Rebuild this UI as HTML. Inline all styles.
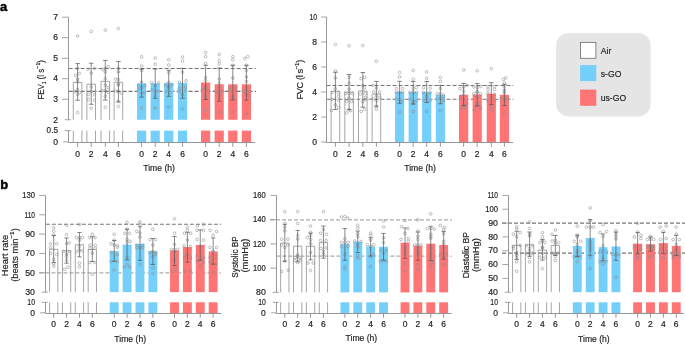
<!DOCTYPE html>
<html><head><meta charset="utf-8"><title>Figure</title>
<style>html,body{margin:0;padding:0;background:#fff;overflow:hidden}svg{display:block;will-change:transform}</style></head>
<body><svg width="685" height="344" viewBox="0 0 685 344" font-family="'Liberation Sans', sans-serif">
<style>text{stroke:#1e1e1e;stroke-width:0.18px;paint-order:stroke}</style>
<rect width="685" height="344" fill="#fff"/>
<line x1="68.6" y1="68.45" x2="255.9" y2="68.45" stroke="#767676" stroke-width="1.1" stroke-dasharray="4 2"/>
<line x1="68.6" y1="91.35" x2="255.9" y2="91.35" stroke="#767676" stroke-width="1.1" stroke-dasharray="4 2"/>
<path d="M73.3 119.75V82.4H81.9V119.75M73.3 130.6V142.5M81.9 130.6V142.5" fill="none" stroke="#8f8f8f" stroke-width="0.8"/>
<circle cx="77.6" cy="36" r="1.35" fill="none" stroke="#8a8a8a" stroke-width="0.55"/>
<circle cx="77.6" cy="68.5" r="1.35" fill="none" stroke="#8a8a8a" stroke-width="0.55"/>
<circle cx="75.6" cy="75.3" r="1.35" fill="none" stroke="#8a8a8a" stroke-width="0.55"/>
<circle cx="79.2" cy="73.5" r="1.35" fill="none" stroke="#8a8a8a" stroke-width="0.55"/>
<circle cx="77.6" cy="79" r="1.35" fill="none" stroke="#8a8a8a" stroke-width="0.55"/>
<circle cx="77.6" cy="81.5" r="1.35" fill="none" stroke="#8a8a8a" stroke-width="0.55"/>
<circle cx="77.6" cy="89.5" r="1.35" fill="none" stroke="#8a8a8a" stroke-width="0.55"/>
<circle cx="74.8" cy="91.4" r="1.35" fill="none" stroke="#8a8a8a" stroke-width="0.55"/>
<circle cx="79.6" cy="92.5" r="1.35" fill="none" stroke="#8a8a8a" stroke-width="0.55"/>
<circle cx="77.6" cy="94.5" r="1.35" fill="none" stroke="#8a8a8a" stroke-width="0.55"/>
<circle cx="77.6" cy="112.6" r="1.35" fill="none" stroke="#8a8a8a" stroke-width="0.55"/>
<path d="M77.6 63.6V100.2M75.3 63.6H79.9M75.3 100.2H79.9" fill="none" stroke="#555555" stroke-width="0.7"/>
<path d="M86.9 119.75V84.2H95.5V119.75M86.9 130.6V142.5M95.5 130.6V142.5" fill="none" stroke="#8f8f8f" stroke-width="0.8"/>
<circle cx="91.2" cy="31.4" r="1.35" fill="none" stroke="#8a8a8a" stroke-width="0.55"/>
<circle cx="87.9" cy="69.2" r="1.35" fill="none" stroke="#8a8a8a" stroke-width="0.55"/>
<circle cx="94.4" cy="68.5" r="1.35" fill="none" stroke="#8a8a8a" stroke-width="0.55"/>
<circle cx="91.2" cy="73.1" r="1.35" fill="none" stroke="#8a8a8a" stroke-width="0.55"/>
<circle cx="91.2" cy="87" r="1.35" fill="none" stroke="#8a8a8a" stroke-width="0.55"/>
<circle cx="91.2" cy="91.5" r="1.35" fill="none" stroke="#8a8a8a" stroke-width="0.55"/>
<circle cx="88.2" cy="94.5" r="1.35" fill="none" stroke="#8a8a8a" stroke-width="0.55"/>
<circle cx="88.2" cy="99.4" r="1.35" fill="none" stroke="#8a8a8a" stroke-width="0.55"/>
<circle cx="94.4" cy="94.6" r="1.35" fill="none" stroke="#8a8a8a" stroke-width="0.55"/>
<circle cx="94.4" cy="100.2" r="1.35" fill="none" stroke="#8a8a8a" stroke-width="0.55"/>
<circle cx="91.2" cy="108.2" r="1.35" fill="none" stroke="#8a8a8a" stroke-width="0.55"/>
<path d="M91.2 63.2V104.3M88.9 63.2H93.5M88.9 104.3H93.5" fill="none" stroke="#555555" stroke-width="0.7"/>
<path d="M101 119.75V81.3H109.6V119.75M101 130.6V142.5M109.6 130.6V142.5" fill="none" stroke="#8f8f8f" stroke-width="0.8"/>
<circle cx="105.3" cy="30.1" r="1.35" fill="none" stroke="#8a8a8a" stroke-width="0.55"/>
<circle cx="108.3" cy="66.7" r="1.35" fill="none" stroke="#8a8a8a" stroke-width="0.55"/>
<circle cx="102.6" cy="69.5" r="1.35" fill="none" stroke="#8a8a8a" stroke-width="0.55"/>
<circle cx="105.3" cy="68.4" r="1.35" fill="none" stroke="#8a8a8a" stroke-width="0.55"/>
<circle cx="105.3" cy="71.8" r="1.35" fill="none" stroke="#8a8a8a" stroke-width="0.55"/>
<circle cx="105.3" cy="78.6" r="1.35" fill="none" stroke="#8a8a8a" stroke-width="0.55"/>
<circle cx="105.3" cy="85" r="1.35" fill="none" stroke="#8a8a8a" stroke-width="0.55"/>
<circle cx="108" cy="87.7" r="1.35" fill="none" stroke="#8a8a8a" stroke-width="0.55"/>
<circle cx="102.3" cy="90.5" r="1.35" fill="none" stroke="#8a8a8a" stroke-width="0.55"/>
<circle cx="105.3" cy="91" r="1.35" fill="none" stroke="#8a8a8a" stroke-width="0.55"/>
<circle cx="108" cy="92.3" r="1.35" fill="none" stroke="#8a8a8a" stroke-width="0.55"/>
<circle cx="105.3" cy="96.2" r="1.35" fill="none" stroke="#8a8a8a" stroke-width="0.55"/>
<circle cx="105.3" cy="107.3" r="1.35" fill="none" stroke="#8a8a8a" stroke-width="0.55"/>
<path d="M105.3 60.4V100.1M103 60.4H107.6M103 100.1H107.6" fill="none" stroke="#555555" stroke-width="0.7"/>
<path d="M114.1 119.75V82.2H122.7V119.75M114.1 130.6V142.5M122.7 130.6V142.5" fill="none" stroke="#8f8f8f" stroke-width="0.8"/>
<circle cx="118.4" cy="28.5" r="1.35" fill="none" stroke="#8a8a8a" stroke-width="0.55"/>
<circle cx="118.4" cy="68.5" r="1.35" fill="none" stroke="#8a8a8a" stroke-width="0.55"/>
<circle cx="118.4" cy="72" r="1.35" fill="none" stroke="#8a8a8a" stroke-width="0.55"/>
<circle cx="115.5" cy="79.1" r="1.35" fill="none" stroke="#8a8a8a" stroke-width="0.55"/>
<circle cx="118.4" cy="79.5" r="1.35" fill="none" stroke="#8a8a8a" stroke-width="0.55"/>
<circle cx="118.4" cy="84" r="1.35" fill="none" stroke="#8a8a8a" stroke-width="0.55"/>
<circle cx="118.4" cy="85" r="1.35" fill="none" stroke="#8a8a8a" stroke-width="0.55"/>
<circle cx="115.6" cy="91" r="1.35" fill="none" stroke="#8a8a8a" stroke-width="0.55"/>
<circle cx="118.4" cy="91.5" r="1.35" fill="none" stroke="#8a8a8a" stroke-width="0.55"/>
<circle cx="121.4" cy="93.2" r="1.35" fill="none" stroke="#8a8a8a" stroke-width="0.55"/>
<circle cx="118.4" cy="101.4" r="1.35" fill="none" stroke="#8a8a8a" stroke-width="0.55"/>
<circle cx="118.4" cy="106.5" r="1.35" fill="none" stroke="#8a8a8a" stroke-width="0.55"/>
<path d="M118.4 61.5V101.9M116.1 61.5H120.7M116.1 101.9H120.7" fill="none" stroke="#555555" stroke-width="0.7"/>
<rect x="137" y="83.4" width="9.2" height="36.35" fill="#74cffa"/>
<rect x="137" y="130.6" width="9.2" height="11.9" fill="#74cffa"/>
<circle cx="141.6" cy="56.8" r="1.35" fill="none" stroke="#8a8a8a" stroke-width="0.55"/>
<circle cx="141.6" cy="66" r="1.35" fill="none" stroke="#8a8a8a" stroke-width="0.55"/>
<circle cx="141.6" cy="70.5" r="1.35" fill="none" stroke="#8a8a8a" stroke-width="0.55"/>
<circle cx="141.6" cy="82" r="1.35" fill="none" stroke="#8a8a8a" stroke-width="0.55"/>
<circle cx="138.5" cy="85.4" r="1.35" fill="none" stroke="#8a8a8a" stroke-width="0.55"/>
<circle cx="145" cy="85.4" r="1.35" fill="none" stroke="#8a8a8a" stroke-width="0.55"/>
<circle cx="141.6" cy="87.9" r="1.35" fill="none" stroke="#8a8a8a" stroke-width="0.55"/>
<circle cx="138.5" cy="89.6" r="1.35" fill="none" stroke="#8a8a8a" stroke-width="0.55"/>
<circle cx="141.6" cy="93.2" r="1.35" fill="none" stroke="#8a8a8a" stroke-width="0.55"/>
<circle cx="144.5" cy="93" r="1.35" fill="none" stroke="#8a8a8a" stroke-width="0.55"/>
<circle cx="141.6" cy="108.2" r="1.35" fill="none" stroke="#8a8a8a" stroke-width="0.55"/>
<path d="M141.6 69V97.1M139.3 69H143.9M139.3 97.1H143.9" fill="none" stroke="#555555" stroke-width="0.7"/>
<rect x="150.6" y="83.4" width="9.2" height="36.35" fill="#74cffa"/>
<rect x="150.6" y="130.6" width="9.2" height="11.9" fill="#74cffa"/>
<circle cx="155.2" cy="58.1" r="1.35" fill="none" stroke="#8a8a8a" stroke-width="0.55"/>
<circle cx="155.2" cy="64.2" r="1.35" fill="none" stroke="#8a8a8a" stroke-width="0.55"/>
<circle cx="151.5" cy="82.6" r="1.35" fill="none" stroke="#8a8a8a" stroke-width="0.55"/>
<circle cx="158.5" cy="82.6" r="1.35" fill="none" stroke="#8a8a8a" stroke-width="0.55"/>
<circle cx="155.2" cy="85.4" r="1.35" fill="none" stroke="#8a8a8a" stroke-width="0.55"/>
<circle cx="152.2" cy="89.6" r="1.35" fill="none" stroke="#8a8a8a" stroke-width="0.55"/>
<circle cx="155.2" cy="91.5" r="1.35" fill="none" stroke="#8a8a8a" stroke-width="0.55"/>
<circle cx="158" cy="91" r="1.35" fill="none" stroke="#8a8a8a" stroke-width="0.55"/>
<circle cx="155.2" cy="95.6" r="1.35" fill="none" stroke="#8a8a8a" stroke-width="0.55"/>
<circle cx="155.2" cy="108.1" r="1.35" fill="none" stroke="#8a8a8a" stroke-width="0.55"/>
<path d="M155.2 69V98.3M152.9 69H157.5M152.9 98.3H157.5" fill="none" stroke="#555555" stroke-width="0.7"/>
<rect x="164.1" y="82.9" width="9.2" height="36.85" fill="#74cffa"/>
<rect x="164.1" y="130.6" width="9.2" height="11.9" fill="#74cffa"/>
<circle cx="168.7" cy="59.7" r="1.35" fill="none" stroke="#8a8a8a" stroke-width="0.55"/>
<circle cx="168.7" cy="65.1" r="1.35" fill="none" stroke="#8a8a8a" stroke-width="0.55"/>
<circle cx="168.7" cy="72.5" r="1.35" fill="none" stroke="#8a8a8a" stroke-width="0.55"/>
<circle cx="168.7" cy="82.5" r="1.35" fill="none" stroke="#8a8a8a" stroke-width="0.55"/>
<circle cx="165.5" cy="85.4" r="1.35" fill="none" stroke="#8a8a8a" stroke-width="0.55"/>
<circle cx="168.7" cy="86.4" r="1.35" fill="none" stroke="#8a8a8a" stroke-width="0.55"/>
<circle cx="172" cy="85" r="1.35" fill="none" stroke="#8a8a8a" stroke-width="0.55"/>
<circle cx="168.7" cy="88" r="1.35" fill="none" stroke="#8a8a8a" stroke-width="0.55"/>
<circle cx="166.5" cy="91.5" r="1.35" fill="none" stroke="#8a8a8a" stroke-width="0.55"/>
<circle cx="170" cy="92.5" r="1.35" fill="none" stroke="#8a8a8a" stroke-width="0.55"/>
<circle cx="168.7" cy="107.1" r="1.35" fill="none" stroke="#8a8a8a" stroke-width="0.55"/>
<path d="M168.7 70.3V96.3M166.4 70.3H171M166.4 96.3H171" fill="none" stroke="#555555" stroke-width="0.7"/>
<rect x="177.9" y="82.9" width="9.2" height="36.85" fill="#74cffa"/>
<rect x="177.9" y="130.6" width="9.2" height="11.9" fill="#74cffa"/>
<circle cx="182.5" cy="57.1" r="1.35" fill="none" stroke="#8a8a8a" stroke-width="0.55"/>
<circle cx="182.5" cy="61.2" r="1.35" fill="none" stroke="#8a8a8a" stroke-width="0.55"/>
<circle cx="182.5" cy="72.2" r="1.35" fill="none" stroke="#8a8a8a" stroke-width="0.55"/>
<circle cx="179.3" cy="82.1" r="1.35" fill="none" stroke="#8a8a8a" stroke-width="0.55"/>
<circle cx="186" cy="80.8" r="1.35" fill="none" stroke="#8a8a8a" stroke-width="0.55"/>
<circle cx="179.3" cy="88.7" r="1.35" fill="none" stroke="#8a8a8a" stroke-width="0.55"/>
<circle cx="179.3" cy="91.8" r="1.35" fill="none" stroke="#8a8a8a" stroke-width="0.55"/>
<circle cx="185.5" cy="87.1" r="1.35" fill="none" stroke="#8a8a8a" stroke-width="0.55"/>
<circle cx="185.5" cy="90.5" r="1.35" fill="none" stroke="#8a8a8a" stroke-width="0.55"/>
<circle cx="182.5" cy="94.8" r="1.35" fill="none" stroke="#8a8a8a" stroke-width="0.55"/>
<circle cx="182.5" cy="108.9" r="1.35" fill="none" stroke="#8a8a8a" stroke-width="0.55"/>
<path d="M182.5 68.4V98.3M180.2 68.4H184.8M180.2 98.3H184.8" fill="none" stroke="#555555" stroke-width="0.7"/>
<rect x="201" y="82.5" width="9.2" height="37.25" fill="#ff7474"/>
<rect x="201" y="130.6" width="9.2" height="11.9" fill="#ff7474"/>
<circle cx="205.6" cy="52.5" r="1.35" fill="none" stroke="#8a8a8a" stroke-width="0.55"/>
<circle cx="205.6" cy="56.7" r="1.35" fill="none" stroke="#8a8a8a" stroke-width="0.55"/>
<circle cx="205.6" cy="63.3" r="1.35" fill="none" stroke="#8a8a8a" stroke-width="0.55"/>
<circle cx="205.6" cy="77.5" r="1.35" fill="none" stroke="#8a8a8a" stroke-width="0.55"/>
<circle cx="205.6" cy="80.5" r="1.35" fill="none" stroke="#8a8a8a" stroke-width="0.55"/>
<circle cx="205.6" cy="86.5" r="1.35" fill="none" stroke="#8a8a8a" stroke-width="0.55"/>
<circle cx="205.6" cy="89" r="1.35" fill="none" stroke="#8a8a8a" stroke-width="0.55"/>
<circle cx="202.4" cy="89.7" r="1.35" fill="none" stroke="#8a8a8a" stroke-width="0.55"/>
<circle cx="208.8" cy="91" r="1.35" fill="none" stroke="#8a8a8a" stroke-width="0.55"/>
<circle cx="205.6" cy="94" r="1.35" fill="none" stroke="#8a8a8a" stroke-width="0.55"/>
<circle cx="205.6" cy="97.1" r="1.35" fill="none" stroke="#8a8a8a" stroke-width="0.55"/>
<circle cx="205.6" cy="110.3" r="1.35" fill="none" stroke="#8a8a8a" stroke-width="0.55"/>
<path d="M205.6 65.3V99.5M203.3 65.3H207.9M203.3 99.5H207.9" fill="none" stroke="#555555" stroke-width="0.7"/>
<rect x="214.6" y="84.3" width="9.2" height="35.45" fill="#ff7474"/>
<rect x="214.6" y="130.6" width="9.2" height="11.9" fill="#ff7474"/>
<circle cx="219.2" cy="54.4" r="1.35" fill="none" stroke="#8a8a8a" stroke-width="0.55"/>
<circle cx="219.2" cy="60.6" r="1.35" fill="none" stroke="#8a8a8a" stroke-width="0.55"/>
<circle cx="219.2" cy="63.9" r="1.35" fill="none" stroke="#8a8a8a" stroke-width="0.55"/>
<circle cx="219.2" cy="79" r="1.35" fill="none" stroke="#8a8a8a" stroke-width="0.55"/>
<circle cx="219.2" cy="83.5" r="1.35" fill="none" stroke="#8a8a8a" stroke-width="0.55"/>
<circle cx="219.2" cy="87" r="1.35" fill="none" stroke="#8a8a8a" stroke-width="0.55"/>
<circle cx="215.9" cy="91.5" r="1.35" fill="none" stroke="#8a8a8a" stroke-width="0.55"/>
<circle cx="219.2" cy="91.5" r="1.35" fill="none" stroke="#8a8a8a" stroke-width="0.55"/>
<circle cx="222.5" cy="90.8" r="1.35" fill="none" stroke="#8a8a8a" stroke-width="0.55"/>
<circle cx="219.2" cy="94.2" r="1.35" fill="none" stroke="#8a8a8a" stroke-width="0.55"/>
<circle cx="219.2" cy="97.5" r="1.35" fill="none" stroke="#8a8a8a" stroke-width="0.55"/>
<circle cx="219.2" cy="112" r="1.35" fill="none" stroke="#8a8a8a" stroke-width="0.55"/>
<path d="M219.2 68V101.2M216.9 68H221.5M216.9 101.2H221.5" fill="none" stroke="#555555" stroke-width="0.7"/>
<rect x="228.2" y="84.3" width="9.2" height="35.45" fill="#ff7474"/>
<rect x="228.2" y="130.6" width="9.2" height="11.9" fill="#ff7474"/>
<circle cx="232.8" cy="56.7" r="1.35" fill="none" stroke="#8a8a8a" stroke-width="0.55"/>
<circle cx="232.8" cy="59.8" r="1.35" fill="none" stroke="#8a8a8a" stroke-width="0.55"/>
<circle cx="232.8" cy="65.3" r="1.35" fill="none" stroke="#8a8a8a" stroke-width="0.55"/>
<circle cx="232.8" cy="78" r="1.35" fill="none" stroke="#8a8a8a" stroke-width="0.55"/>
<circle cx="229.5" cy="87.5" r="1.35" fill="none" stroke="#8a8a8a" stroke-width="0.55"/>
<circle cx="229.5" cy="90.5" r="1.35" fill="none" stroke="#8a8a8a" stroke-width="0.55"/>
<circle cx="236" cy="87.5" r="1.35" fill="none" stroke="#8a8a8a" stroke-width="0.55"/>
<circle cx="236" cy="91" r="1.35" fill="none" stroke="#8a8a8a" stroke-width="0.55"/>
<circle cx="232.8" cy="95.4" r="1.35" fill="none" stroke="#8a8a8a" stroke-width="0.55"/>
<circle cx="232.8" cy="97.5" r="1.35" fill="none" stroke="#8a8a8a" stroke-width="0.55"/>
<circle cx="232.8" cy="112" r="1.35" fill="none" stroke="#8a8a8a" stroke-width="0.55"/>
<path d="M232.8 65.3V100M230.5 65.3H235.1M230.5 100H235.1" fill="none" stroke="#555555" stroke-width="0.7"/>
<rect x="241.8" y="84.3" width="9.2" height="35.45" fill="#ff7474"/>
<rect x="241.8" y="130.6" width="9.2" height="11.9" fill="#ff7474"/>
<circle cx="244.9" cy="58.5" r="1.35" fill="none" stroke="#8a8a8a" stroke-width="0.55"/>
<circle cx="247.8" cy="56.7" r="1.35" fill="none" stroke="#8a8a8a" stroke-width="0.55"/>
<circle cx="246.4" cy="65.3" r="1.35" fill="none" stroke="#8a8a8a" stroke-width="0.55"/>
<circle cx="246.4" cy="70.5" r="1.35" fill="none" stroke="#8a8a8a" stroke-width="0.55"/>
<circle cx="246.4" cy="77" r="1.35" fill="none" stroke="#8a8a8a" stroke-width="0.55"/>
<circle cx="246.4" cy="81.5" r="1.35" fill="none" stroke="#8a8a8a" stroke-width="0.55"/>
<circle cx="246.4" cy="88.5" r="1.35" fill="none" stroke="#8a8a8a" stroke-width="0.55"/>
<circle cx="243.5" cy="91" r="1.35" fill="none" stroke="#8a8a8a" stroke-width="0.55"/>
<circle cx="249" cy="91.5" r="1.35" fill="none" stroke="#8a8a8a" stroke-width="0.55"/>
<circle cx="246.4" cy="94" r="1.35" fill="none" stroke="#8a8a8a" stroke-width="0.55"/>
<circle cx="248.3" cy="95.5" r="1.35" fill="none" stroke="#8a8a8a" stroke-width="0.55"/>
<circle cx="246.4" cy="113.8" r="1.35" fill="none" stroke="#8a8a8a" stroke-width="0.55"/>
<path d="M246.4 65.3V100.2M244.1 65.3H248.7M244.1 100.2H248.7" fill="none" stroke="#555555" stroke-width="0.7"/>
<line x1="68.5" y1="17.2" x2="68.5" y2="119.75" stroke="#8c8c8c" stroke-width="0.9" />
<line x1="68.5" y1="130.6" x2="68.5" y2="142.5" stroke="#8c8c8c" stroke-width="0.9" />
<line x1="68.5" y1="142.5" x2="255.2" y2="142.5" stroke="#8c8c8c" stroke-width="0.9" />
<line x1="62" y1="17.2" x2="68.5" y2="17.2" stroke="#9a9a9a" stroke-width="0.9" />
<text x="58" y="19.95" font-size="8.4" text-anchor="end" textLength="4.75" lengthAdjust="spacingAndGlyphs" fill="#1e1e1e">7</text>
<line x1="62" y1="37.71" x2="68.5" y2="37.71" stroke="#9a9a9a" stroke-width="0.9" />
<text x="58" y="40.46" font-size="8.4" text-anchor="end" textLength="4.75" lengthAdjust="spacingAndGlyphs" fill="#1e1e1e">6</text>
<line x1="62" y1="58.22" x2="68.5" y2="58.22" stroke="#9a9a9a" stroke-width="0.9" />
<text x="58" y="60.97" font-size="8.4" text-anchor="end" textLength="4.75" lengthAdjust="spacingAndGlyphs" fill="#1e1e1e">5</text>
<line x1="62" y1="78.73" x2="68.5" y2="78.73" stroke="#9a9a9a" stroke-width="0.9" />
<text x="58" y="81.48" font-size="8.4" text-anchor="end" textLength="4.75" lengthAdjust="spacingAndGlyphs" fill="#1e1e1e">4</text>
<line x1="62" y1="99.24" x2="68.5" y2="99.24" stroke="#9a9a9a" stroke-width="0.9" />
<text x="58" y="101.99" font-size="8.4" text-anchor="end" textLength="4.75" lengthAdjust="spacingAndGlyphs" fill="#1e1e1e">3</text>
<line x1="64.7" y1="119.75" x2="70.8" y2="119.75" stroke="#9a9a9a" stroke-width="0.9" />
<text x="58" y="122.5" font-size="8.4" text-anchor="end" textLength="4.75" lengthAdjust="spacingAndGlyphs" fill="#1e1e1e">2</text>
<line x1="64.7" y1="130.6" x2="70.8" y2="130.6" stroke="#9a9a9a" stroke-width="0.9" />
<text x="58" y="133.35" font-size="8.4" text-anchor="end" textLength="11.4" lengthAdjust="spacingAndGlyphs" fill="#1e1e1e">0.5</text>
<line x1="63.2" y1="141.9" x2="68.5" y2="141.9" stroke="#9a9a9a" stroke-width="0.9" />
<text x="58" y="144.65" font-size="8.4" text-anchor="end" textLength="4.75" lengthAdjust="spacingAndGlyphs" fill="#1e1e1e">0</text>
<line x1="77.6" y1="142.5" x2="77.6" y2="146.8" stroke="#858585" stroke-width="0.85" />
<text x="77.6" y="156.7" font-size="8.4" text-anchor="middle" textLength="4.75" lengthAdjust="spacingAndGlyphs" fill="#1e1e1e">0</text>
<line x1="91.2" y1="142.5" x2="91.2" y2="146.8" stroke="#858585" stroke-width="0.85" />
<text x="91.2" y="156.7" font-size="8.4" text-anchor="middle" textLength="4.75" lengthAdjust="spacingAndGlyphs" fill="#1e1e1e">2</text>
<line x1="105.3" y1="142.5" x2="105.3" y2="146.8" stroke="#858585" stroke-width="0.85" />
<text x="105.3" y="156.7" font-size="8.4" text-anchor="middle" textLength="4.75" lengthAdjust="spacingAndGlyphs" fill="#1e1e1e">4</text>
<line x1="118.4" y1="142.5" x2="118.4" y2="146.8" stroke="#858585" stroke-width="0.85" />
<text x="118.4" y="156.7" font-size="8.4" text-anchor="middle" textLength="4.75" lengthAdjust="spacingAndGlyphs" fill="#1e1e1e">6</text>
<line x1="141.6" y1="142.5" x2="141.6" y2="146.8" stroke="#858585" stroke-width="0.85" />
<text x="141.6" y="156.7" font-size="8.4" text-anchor="middle" textLength="4.75" lengthAdjust="spacingAndGlyphs" fill="#1e1e1e">0</text>
<line x1="155.2" y1="142.5" x2="155.2" y2="146.8" stroke="#858585" stroke-width="0.85" />
<text x="155.2" y="156.7" font-size="8.4" text-anchor="middle" textLength="4.75" lengthAdjust="spacingAndGlyphs" fill="#1e1e1e">2</text>
<line x1="168.7" y1="142.5" x2="168.7" y2="146.8" stroke="#858585" stroke-width="0.85" />
<text x="168.7" y="156.7" font-size="8.4" text-anchor="middle" textLength="4.75" lengthAdjust="spacingAndGlyphs" fill="#1e1e1e">4</text>
<line x1="182.5" y1="142.5" x2="182.5" y2="146.8" stroke="#858585" stroke-width="0.85" />
<text x="182.5" y="156.7" font-size="8.4" text-anchor="middle" textLength="4.75" lengthAdjust="spacingAndGlyphs" fill="#1e1e1e">6</text>
<line x1="205.6" y1="142.5" x2="205.6" y2="146.8" stroke="#858585" stroke-width="0.85" />
<text x="205.6" y="156.7" font-size="8.4" text-anchor="middle" textLength="4.75" lengthAdjust="spacingAndGlyphs" fill="#1e1e1e">0</text>
<line x1="219.2" y1="142.5" x2="219.2" y2="146.8" stroke="#858585" stroke-width="0.85" />
<text x="219.2" y="156.7" font-size="8.4" text-anchor="middle" textLength="4.75" lengthAdjust="spacingAndGlyphs" fill="#1e1e1e">2</text>
<line x1="232.8" y1="142.5" x2="232.8" y2="146.8" stroke="#858585" stroke-width="0.85" />
<text x="232.8" y="156.7" font-size="8.4" text-anchor="middle" textLength="4.75" lengthAdjust="spacingAndGlyphs" fill="#1e1e1e">4</text>
<line x1="246.4" y1="142.5" x2="246.4" y2="146.8" stroke="#858585" stroke-width="0.85" />
<text x="246.4" y="156.7" font-size="8.4" text-anchor="middle" textLength="4.75" lengthAdjust="spacingAndGlyphs" fill="#1e1e1e">6</text>
<line x1="326.5" y1="85.5" x2="513.3" y2="85.5" stroke="#767676" stroke-width="1.1" stroke-dasharray="4 2"/>
<line x1="326.5" y1="99.25" x2="513.3" y2="99.25" stroke="#767676" stroke-width="1.1" stroke-dasharray="4 2"/>
<path d="M331.1 142V91.3H339.7V142M331.1 142V142.5M339.7 142V142.5" fill="none" stroke="#8f8f8f" stroke-width="0.8"/>
<circle cx="335.4" cy="44.5" r="1.35" fill="none" stroke="#8a8a8a" stroke-width="0.55"/>
<circle cx="335.4" cy="71" r="1.35" fill="none" stroke="#8a8a8a" stroke-width="0.55"/>
<circle cx="335.4" cy="78" r="1.35" fill="none" stroke="#8a8a8a" stroke-width="0.55"/>
<circle cx="335.4" cy="88.8" r="1.35" fill="none" stroke="#8a8a8a" stroke-width="0.55"/>
<circle cx="332" cy="92.5" r="1.35" fill="none" stroke="#8a8a8a" stroke-width="0.55"/>
<circle cx="338.5" cy="92.5" r="1.35" fill="none" stroke="#8a8a8a" stroke-width="0.55"/>
<circle cx="338.5" cy="96.5" r="1.35" fill="none" stroke="#8a8a8a" stroke-width="0.55"/>
<circle cx="332" cy="99.4" r="1.35" fill="none" stroke="#8a8a8a" stroke-width="0.55"/>
<circle cx="338.5" cy="100.5" r="1.35" fill="none" stroke="#8a8a8a" stroke-width="0.55"/>
<circle cx="335.4" cy="104.9" r="1.35" fill="none" stroke="#8a8a8a" stroke-width="0.55"/>
<circle cx="338.5" cy="107.5" r="1.35" fill="none" stroke="#8a8a8a" stroke-width="0.55"/>
<circle cx="331.5" cy="110.5" r="1.35" fill="none" stroke="#8a8a8a" stroke-width="0.55"/>
<path d="M335.4 72.3V109.4M333.1 72.3H337.7M333.1 109.4H337.7" fill="none" stroke="#555555" stroke-width="0.7"/>
<path d="M344.8 142V92H353.4V142M344.8 142V142.5M353.4 142V142.5" fill="none" stroke="#8f8f8f" stroke-width="0.8"/>
<circle cx="349.1" cy="45.75" r="1.35" fill="none" stroke="#8a8a8a" stroke-width="0.55"/>
<circle cx="349.1" cy="77.3" r="1.35" fill="none" stroke="#8a8a8a" stroke-width="0.55"/>
<circle cx="349.1" cy="83.2" r="1.35" fill="none" stroke="#8a8a8a" stroke-width="0.55"/>
<circle cx="349.1" cy="89.1" r="1.35" fill="none" stroke="#8a8a8a" stroke-width="0.55"/>
<circle cx="345.5" cy="93.5" r="1.35" fill="none" stroke="#8a8a8a" stroke-width="0.55"/>
<circle cx="349.1" cy="93.5" r="1.35" fill="none" stroke="#8a8a8a" stroke-width="0.55"/>
<circle cx="352.5" cy="93.5" r="1.35" fill="none" stroke="#8a8a8a" stroke-width="0.55"/>
<circle cx="349.1" cy="98" r="1.35" fill="none" stroke="#8a8a8a" stroke-width="0.55"/>
<circle cx="346.5" cy="101.5" r="1.35" fill="none" stroke="#8a8a8a" stroke-width="0.55"/>
<circle cx="351.5" cy="101.5" r="1.35" fill="none" stroke="#8a8a8a" stroke-width="0.55"/>
<circle cx="349.1" cy="109.9" r="1.35" fill="none" stroke="#8a8a8a" stroke-width="0.55"/>
<circle cx="346.7" cy="112.9" r="1.35" fill="none" stroke="#8a8a8a" stroke-width="0.55"/>
<circle cx="350.5" cy="110.7" r="1.35" fill="none" stroke="#8a8a8a" stroke-width="0.55"/>
<path d="M349.1 74.5V109.5M346.8 74.5H351.4M346.8 109.5H351.4" fill="none" stroke="#555555" stroke-width="0.7"/>
<path d="M358.5 142V91H367.1V142M358.5 142V142.5M367.1 142V142.5" fill="none" stroke="#8f8f8f" stroke-width="0.8"/>
<circle cx="362.8" cy="45.5" r="1.35" fill="none" stroke="#8a8a8a" stroke-width="0.55"/>
<circle cx="361.1" cy="78.6" r="1.35" fill="none" stroke="#8a8a8a" stroke-width="0.55"/>
<circle cx="364.6" cy="77.3" r="1.35" fill="none" stroke="#8a8a8a" stroke-width="0.55"/>
<circle cx="362.8" cy="85.5" r="1.35" fill="none" stroke="#8a8a8a" stroke-width="0.55"/>
<circle cx="364.5" cy="87.8" r="1.35" fill="none" stroke="#8a8a8a" stroke-width="0.55"/>
<circle cx="360.4" cy="94.1" r="1.35" fill="none" stroke="#8a8a8a" stroke-width="0.55"/>
<circle cx="365.5" cy="93.5" r="1.35" fill="none" stroke="#8a8a8a" stroke-width="0.55"/>
<circle cx="365.5" cy="97.6" r="1.35" fill="none" stroke="#8a8a8a" stroke-width="0.55"/>
<circle cx="365.5" cy="99.5" r="1.35" fill="none" stroke="#8a8a8a" stroke-width="0.55"/>
<circle cx="362.8" cy="101.5" r="1.35" fill="none" stroke="#8a8a8a" stroke-width="0.55"/>
<circle cx="361.1" cy="111.4" r="1.35" fill="none" stroke="#8a8a8a" stroke-width="0.55"/>
<circle cx="364.4" cy="109.4" r="1.35" fill="none" stroke="#8a8a8a" stroke-width="0.55"/>
<path d="M362.8 72.5V107.2M360.5 72.5H365.1M360.5 107.2H365.1" fill="none" stroke="#555555" stroke-width="0.7"/>
<path d="M372.1 142V94.1H380.7V142M372.1 142V142.5M380.7 142V142.5" fill="none" stroke="#8f8f8f" stroke-width="0.8"/>
<circle cx="376.4" cy="61.25" r="1.35" fill="none" stroke="#8a8a8a" stroke-width="0.55"/>
<circle cx="372.9" cy="85.2" r="1.35" fill="none" stroke="#8a8a8a" stroke-width="0.55"/>
<circle cx="376.4" cy="88" r="1.35" fill="none" stroke="#8a8a8a" stroke-width="0.55"/>
<circle cx="373.7" cy="91.9" r="1.35" fill="none" stroke="#8a8a8a" stroke-width="0.55"/>
<circle cx="379.5" cy="92" r="1.35" fill="none" stroke="#8a8a8a" stroke-width="0.55"/>
<circle cx="376.4" cy="95.5" r="1.35" fill="none" stroke="#8a8a8a" stroke-width="0.55"/>
<circle cx="373.7" cy="98.8" r="1.35" fill="none" stroke="#8a8a8a" stroke-width="0.55"/>
<circle cx="379.5" cy="97.5" r="1.35" fill="none" stroke="#8a8a8a" stroke-width="0.55"/>
<circle cx="376.4" cy="100.5" r="1.35" fill="none" stroke="#8a8a8a" stroke-width="0.55"/>
<circle cx="376.4" cy="106.3" r="1.35" fill="none" stroke="#8a8a8a" stroke-width="0.55"/>
<circle cx="376.4" cy="109.2" r="1.35" fill="none" stroke="#8a8a8a" stroke-width="0.55"/>
<path d="M376.4 81.4V106.3M374.1 81.4H378.7M374.1 106.3H378.7" fill="none" stroke="#555555" stroke-width="0.7"/>
<rect x="395" y="91.9" width="9.2" height="50.1" fill="#74cffa"/>
<rect x="395" y="142" width="9.2" height="0.5" fill="#74cffa"/>
<circle cx="399.6" cy="72.5" r="1.35" fill="none" stroke="#8a8a8a" stroke-width="0.55"/>
<circle cx="399.6" cy="76.9" r="1.35" fill="none" stroke="#8a8a8a" stroke-width="0.55"/>
<circle cx="396.4" cy="88.5" r="1.35" fill="none" stroke="#8a8a8a" stroke-width="0.55"/>
<circle cx="402.6" cy="88.5" r="1.35" fill="none" stroke="#8a8a8a" stroke-width="0.55"/>
<circle cx="396.4" cy="92" r="1.35" fill="none" stroke="#8a8a8a" stroke-width="0.55"/>
<circle cx="399.6" cy="92.5" r="1.35" fill="none" stroke="#8a8a8a" stroke-width="0.55"/>
<circle cx="402.6" cy="92" r="1.35" fill="none" stroke="#8a8a8a" stroke-width="0.55"/>
<circle cx="396.4" cy="99.2" r="1.35" fill="none" stroke="#8a8a8a" stroke-width="0.55"/>
<circle cx="399.6" cy="99.5" r="1.35" fill="none" stroke="#8a8a8a" stroke-width="0.55"/>
<circle cx="402" cy="100.9" r="1.35" fill="none" stroke="#8a8a8a" stroke-width="0.55"/>
<circle cx="399.6" cy="112.2" r="1.35" fill="none" stroke="#8a8a8a" stroke-width="0.55"/>
<path d="M399.6 81.3V103.3M397.3 81.3H401.9M397.3 103.3H401.9" fill="none" stroke="#555555" stroke-width="0.7"/>
<rect x="408.6" y="92.2" width="9.2" height="49.8" fill="#74cffa"/>
<rect x="408.6" y="142" width="9.2" height="0.5" fill="#74cffa"/>
<circle cx="413.2" cy="70.4" r="1.35" fill="none" stroke="#8a8a8a" stroke-width="0.55"/>
<circle cx="413.2" cy="79.3" r="1.35" fill="none" stroke="#8a8a8a" stroke-width="0.55"/>
<circle cx="413.2" cy="88.5" r="1.35" fill="none" stroke="#8a8a8a" stroke-width="0.55"/>
<circle cx="416.4" cy="87.4" r="1.35" fill="none" stroke="#8a8a8a" stroke-width="0.55"/>
<circle cx="410" cy="92.2" r="1.35" fill="none" stroke="#8a8a8a" stroke-width="0.55"/>
<circle cx="413.2" cy="92.2" r="1.35" fill="none" stroke="#8a8a8a" stroke-width="0.55"/>
<circle cx="416.5" cy="92.2" r="1.35" fill="none" stroke="#8a8a8a" stroke-width="0.55"/>
<circle cx="410" cy="99.2" r="1.35" fill="none" stroke="#8a8a8a" stroke-width="0.55"/>
<circle cx="416.5" cy="100.5" r="1.35" fill="none" stroke="#8a8a8a" stroke-width="0.55"/>
<circle cx="413.2" cy="101.5" r="1.35" fill="none" stroke="#8a8a8a" stroke-width="0.55"/>
<circle cx="413.2" cy="103.5" r="1.35" fill="none" stroke="#8a8a8a" stroke-width="0.55"/>
<circle cx="413.2" cy="111.4" r="1.35" fill="none" stroke="#8a8a8a" stroke-width="0.55"/>
<path d="M413.2 81.5V104M410.9 81.5H415.5M410.9 104H415.5" fill="none" stroke="#555555" stroke-width="0.7"/>
<rect x="422.1" y="91.9" width="9.2" height="50.1" fill="#74cffa"/>
<rect x="422.1" y="142" width="9.2" height="0.5" fill="#74cffa"/>
<circle cx="426.7" cy="71.9" r="1.35" fill="none" stroke="#8a8a8a" stroke-width="0.55"/>
<circle cx="426.7" cy="78.4" r="1.35" fill="none" stroke="#8a8a8a" stroke-width="0.55"/>
<circle cx="423.4" cy="87.8" r="1.35" fill="none" stroke="#8a8a8a" stroke-width="0.55"/>
<circle cx="430.2" cy="88.2" r="1.35" fill="none" stroke="#8a8a8a" stroke-width="0.55"/>
<circle cx="423.5" cy="92.6" r="1.35" fill="none" stroke="#8a8a8a" stroke-width="0.55"/>
<circle cx="430.2" cy="92.6" r="1.35" fill="none" stroke="#8a8a8a" stroke-width="0.55"/>
<circle cx="426.7" cy="96.1" r="1.35" fill="none" stroke="#8a8a8a" stroke-width="0.55"/>
<circle cx="426.7" cy="99" r="1.35" fill="none" stroke="#8a8a8a" stroke-width="0.55"/>
<circle cx="423.5" cy="100" r="1.35" fill="none" stroke="#8a8a8a" stroke-width="0.55"/>
<circle cx="430.2" cy="100.5" r="1.35" fill="none" stroke="#8a8a8a" stroke-width="0.55"/>
<circle cx="426.7" cy="111.2" r="1.35" fill="none" stroke="#8a8a8a" stroke-width="0.55"/>
<path d="M426.7 81.5V102.4M424.4 81.5H429M424.4 102.4H429" fill="none" stroke="#555555" stroke-width="0.7"/>
<rect x="435.8" y="94.8" width="9.2" height="47.2" fill="#74cffa"/>
<rect x="435.8" y="142" width="9.2" height="0.5" fill="#74cffa"/>
<circle cx="440.4" cy="77.5" r="1.35" fill="none" stroke="#8a8a8a" stroke-width="0.55"/>
<circle cx="440.4" cy="81.5" r="1.35" fill="none" stroke="#8a8a8a" stroke-width="0.55"/>
<circle cx="440.4" cy="88.5" r="1.35" fill="none" stroke="#8a8a8a" stroke-width="0.55"/>
<circle cx="437.3" cy="93.9" r="1.35" fill="none" stroke="#8a8a8a" stroke-width="0.55"/>
<circle cx="440.4" cy="93.5" r="1.35" fill="none" stroke="#8a8a8a" stroke-width="0.55"/>
<circle cx="443.5" cy="95" r="1.35" fill="none" stroke="#8a8a8a" stroke-width="0.55"/>
<circle cx="437.3" cy="98.7" r="1.35" fill="none" stroke="#8a8a8a" stroke-width="0.55"/>
<circle cx="440.4" cy="98.5" r="1.35" fill="none" stroke="#8a8a8a" stroke-width="0.55"/>
<circle cx="443.4" cy="98.5" r="1.35" fill="none" stroke="#8a8a8a" stroke-width="0.55"/>
<circle cx="443.4" cy="100.9" r="1.35" fill="none" stroke="#8a8a8a" stroke-width="0.55"/>
<circle cx="440.4" cy="110.5" r="1.35" fill="none" stroke="#8a8a8a" stroke-width="0.55"/>
<path d="M440.4 85.4V103.8M438.1 85.4H442.7M438.1 103.8H442.7" fill="none" stroke="#555555" stroke-width="0.7"/>
<rect x="459" y="94.8" width="9.2" height="47.2" fill="#ff7474"/>
<rect x="459" y="142" width="9.2" height="0.5" fill="#ff7474"/>
<circle cx="463.6" cy="69.9" r="1.35" fill="none" stroke="#8a8a8a" stroke-width="0.55"/>
<circle cx="466.9" cy="85.2" r="1.35" fill="none" stroke="#8a8a8a" stroke-width="0.55"/>
<circle cx="459.9" cy="88.5" r="1.35" fill="none" stroke="#8a8a8a" stroke-width="0.55"/>
<circle cx="463.6" cy="87" r="1.35" fill="none" stroke="#8a8a8a" stroke-width="0.55"/>
<circle cx="463.6" cy="91.3" r="1.35" fill="none" stroke="#8a8a8a" stroke-width="0.55"/>
<circle cx="463.6" cy="95" r="1.35" fill="none" stroke="#8a8a8a" stroke-width="0.55"/>
<circle cx="460.5" cy="97.1" r="1.35" fill="none" stroke="#8a8a8a" stroke-width="0.55"/>
<circle cx="463.6" cy="99.4" r="1.35" fill="none" stroke="#8a8a8a" stroke-width="0.55"/>
<circle cx="466.9" cy="103.5" r="1.35" fill="none" stroke="#8a8a8a" stroke-width="0.55"/>
<circle cx="463.6" cy="105.5" r="1.35" fill="none" stroke="#8a8a8a" stroke-width="0.55"/>
<circle cx="465.4" cy="107.4" r="1.35" fill="none" stroke="#8a8a8a" stroke-width="0.55"/>
<circle cx="461.7" cy="108.5" r="1.35" fill="none" stroke="#8a8a8a" stroke-width="0.55"/>
<path d="M463.6 83.4V105.5M461.3 83.4H465.9M461.3 105.5H465.9" fill="none" stroke="#555555" stroke-width="0.7"/>
<rect x="472.6" y="94.5" width="9.2" height="47.5" fill="#ff7474"/>
<rect x="472.6" y="142" width="9.2" height="0.5" fill="#ff7474"/>
<circle cx="477.2" cy="70.8" r="1.35" fill="none" stroke="#8a8a8a" stroke-width="0.55"/>
<circle cx="473.9" cy="86.9" r="1.35" fill="none" stroke="#8a8a8a" stroke-width="0.55"/>
<circle cx="480.8" cy="86.5" r="1.35" fill="none" stroke="#8a8a8a" stroke-width="0.55"/>
<circle cx="477.2" cy="87.5" r="1.35" fill="none" stroke="#8a8a8a" stroke-width="0.55"/>
<circle cx="477.2" cy="91.5" r="1.35" fill="none" stroke="#8a8a8a" stroke-width="0.55"/>
<circle cx="477.2" cy="92.2" r="1.35" fill="none" stroke="#8a8a8a" stroke-width="0.55"/>
<circle cx="473.9" cy="93.7" r="1.35" fill="none" stroke="#8a8a8a" stroke-width="0.55"/>
<circle cx="480.5" cy="93.7" r="1.35" fill="none" stroke="#8a8a8a" stroke-width="0.55"/>
<circle cx="477.2" cy="97" r="1.35" fill="none" stroke="#8a8a8a" stroke-width="0.55"/>
<circle cx="477.2" cy="103.1" r="1.35" fill="none" stroke="#8a8a8a" stroke-width="0.55"/>
<circle cx="477.2" cy="106" r="1.35" fill="none" stroke="#8a8a8a" stroke-width="0.55"/>
<circle cx="474.3" cy="109.9" r="1.35" fill="none" stroke="#8a8a8a" stroke-width="0.55"/>
<circle cx="480.7" cy="108.5" r="1.35" fill="none" stroke="#8a8a8a" stroke-width="0.55"/>
<path d="M477.2 83.4V105.9M474.9 83.4H479.5M474.9 105.9H479.5" fill="none" stroke="#555555" stroke-width="0.7"/>
<rect x="486.7" y="93.7" width="9.2" height="48.3" fill="#ff7474"/>
<rect x="486.7" y="142" width="9.2" height="0.5" fill="#ff7474"/>
<circle cx="491.3" cy="68.6" r="1.35" fill="none" stroke="#8a8a8a" stroke-width="0.55"/>
<circle cx="488" cy="86.5" r="1.35" fill="none" stroke="#8a8a8a" stroke-width="0.55"/>
<circle cx="488" cy="89.4" r="1.35" fill="none" stroke="#8a8a8a" stroke-width="0.55"/>
<circle cx="494.5" cy="86.5" r="1.35" fill="none" stroke="#8a8a8a" stroke-width="0.55"/>
<circle cx="494.5" cy="89.5" r="1.35" fill="none" stroke="#8a8a8a" stroke-width="0.55"/>
<circle cx="488" cy="93" r="1.35" fill="none" stroke="#8a8a8a" stroke-width="0.55"/>
<circle cx="494.5" cy="94.4" r="1.35" fill="none" stroke="#8a8a8a" stroke-width="0.55"/>
<circle cx="491.3" cy="97.4" r="1.35" fill="none" stroke="#8a8a8a" stroke-width="0.55"/>
<circle cx="488" cy="100.9" r="1.35" fill="none" stroke="#8a8a8a" stroke-width="0.55"/>
<circle cx="494.5" cy="101" r="1.35" fill="none" stroke="#8a8a8a" stroke-width="0.55"/>
<circle cx="491.3" cy="106.1" r="1.35" fill="none" stroke="#8a8a8a" stroke-width="0.55"/>
<circle cx="491.3" cy="109.9" r="1.35" fill="none" stroke="#8a8a8a" stroke-width="0.55"/>
<path d="M491.3 82.7V104.4M489 82.7H493.6M489 104.4H493.6" fill="none" stroke="#555555" stroke-width="0.7"/>
<rect x="499.8" y="94.8" width="9.2" height="47.2" fill="#ff7474"/>
<rect x="499.8" y="142" width="9.2" height="0.5" fill="#ff7474"/>
<circle cx="503.4" cy="79.5" r="1.35" fill="none" stroke="#8a8a8a" stroke-width="0.55"/>
<circle cx="505.8" cy="77.8" r="1.35" fill="none" stroke="#8a8a8a" stroke-width="0.55"/>
<circle cx="504.4" cy="83" r="1.35" fill="none" stroke="#8a8a8a" stroke-width="0.55"/>
<circle cx="504.4" cy="86.5" r="1.35" fill="none" stroke="#8a8a8a" stroke-width="0.55"/>
<circle cx="504.4" cy="90" r="1.35" fill="none" stroke="#8a8a8a" stroke-width="0.55"/>
<circle cx="504.4" cy="91.7" r="1.35" fill="none" stroke="#8a8a8a" stroke-width="0.55"/>
<circle cx="504.4" cy="93.5" r="1.35" fill="none" stroke="#8a8a8a" stroke-width="0.55"/>
<circle cx="501.6" cy="98.7" r="1.35" fill="none" stroke="#8a8a8a" stroke-width="0.55"/>
<circle cx="504.4" cy="98.5" r="1.35" fill="none" stroke="#8a8a8a" stroke-width="0.55"/>
<circle cx="507.7" cy="99" r="1.35" fill="none" stroke="#8a8a8a" stroke-width="0.55"/>
<circle cx="504.4" cy="101.3" r="1.35" fill="none" stroke="#8a8a8a" stroke-width="0.55"/>
<circle cx="504.4" cy="113.4" r="1.35" fill="none" stroke="#8a8a8a" stroke-width="0.55"/>
<path d="M504.4 84.3V105.5M502.1 84.3H506.7M502.1 105.5H506.7" fill="none" stroke="#555555" stroke-width="0.7"/>
<line x1="326.5" y1="17" x2="326.5" y2="142" stroke="#8c8c8c" stroke-width="0.9" />
<line x1="326.5" y1="142" x2="326.5" y2="142.5" stroke="#8c8c8c" stroke-width="0.9" />
<line x1="326.5" y1="142.5" x2="513.1" y2="142.5" stroke="#8c8c8c" stroke-width="0.9" />
<line x1="321.2" y1="17" x2="326.5" y2="17" stroke="#9a9a9a" stroke-width="0.9" />
<text x="317.1" y="19.75" font-size="8.4" text-anchor="end" textLength="7.65" lengthAdjust="spacingAndGlyphs" fill="#1e1e1e">10</text>
<line x1="321.2" y1="42" x2="326.5" y2="42" stroke="#9a9a9a" stroke-width="0.9" />
<text x="317.1" y="44.75" font-size="8.4" text-anchor="end" textLength="4.75" lengthAdjust="spacingAndGlyphs" fill="#1e1e1e">8</text>
<line x1="321.2" y1="67" x2="326.5" y2="67" stroke="#9a9a9a" stroke-width="0.9" />
<text x="317.1" y="69.75" font-size="8.4" text-anchor="end" textLength="4.75" lengthAdjust="spacingAndGlyphs" fill="#1e1e1e">6</text>
<line x1="321.2" y1="92" x2="326.5" y2="92" stroke="#9a9a9a" stroke-width="0.9" />
<text x="317.1" y="94.75" font-size="8.4" text-anchor="end" textLength="4.75" lengthAdjust="spacingAndGlyphs" fill="#1e1e1e">4</text>
<line x1="321.2" y1="117" x2="326.5" y2="117" stroke="#9a9a9a" stroke-width="0.9" />
<text x="317.1" y="119.75" font-size="8.4" text-anchor="end" textLength="4.75" lengthAdjust="spacingAndGlyphs" fill="#1e1e1e">2</text>
<line x1="321.2" y1="142" x2="326.5" y2="142" stroke="#9a9a9a" stroke-width="0.9" />
<text x="317.1" y="144.75" font-size="8.4" text-anchor="end" textLength="4.75" lengthAdjust="spacingAndGlyphs" fill="#1e1e1e">0</text>
<line x1="335.4" y1="142.5" x2="335.4" y2="146.8" stroke="#858585" stroke-width="0.85" />
<text x="335.4" y="156.7" font-size="8.4" text-anchor="middle" textLength="4.75" lengthAdjust="spacingAndGlyphs" fill="#1e1e1e">0</text>
<line x1="349.1" y1="142.5" x2="349.1" y2="146.8" stroke="#858585" stroke-width="0.85" />
<text x="349.1" y="156.7" font-size="8.4" text-anchor="middle" textLength="4.75" lengthAdjust="spacingAndGlyphs" fill="#1e1e1e">2</text>
<line x1="362.8" y1="142.5" x2="362.8" y2="146.8" stroke="#858585" stroke-width="0.85" />
<text x="362.8" y="156.7" font-size="8.4" text-anchor="middle" textLength="4.75" lengthAdjust="spacingAndGlyphs" fill="#1e1e1e">4</text>
<line x1="376.4" y1="142.5" x2="376.4" y2="146.8" stroke="#858585" stroke-width="0.85" />
<text x="376.4" y="156.7" font-size="8.4" text-anchor="middle" textLength="4.75" lengthAdjust="spacingAndGlyphs" fill="#1e1e1e">6</text>
<line x1="399.6" y1="142.5" x2="399.6" y2="146.8" stroke="#858585" stroke-width="0.85" />
<text x="399.6" y="156.7" font-size="8.4" text-anchor="middle" textLength="4.75" lengthAdjust="spacingAndGlyphs" fill="#1e1e1e">0</text>
<line x1="413.2" y1="142.5" x2="413.2" y2="146.8" stroke="#858585" stroke-width="0.85" />
<text x="413.2" y="156.7" font-size="8.4" text-anchor="middle" textLength="4.75" lengthAdjust="spacingAndGlyphs" fill="#1e1e1e">2</text>
<line x1="426.7" y1="142.5" x2="426.7" y2="146.8" stroke="#858585" stroke-width="0.85" />
<text x="426.7" y="156.7" font-size="8.4" text-anchor="middle" textLength="4.75" lengthAdjust="spacingAndGlyphs" fill="#1e1e1e">4</text>
<line x1="440.4" y1="142.5" x2="440.4" y2="146.8" stroke="#858585" stroke-width="0.85" />
<text x="440.4" y="156.7" font-size="8.4" text-anchor="middle" textLength="4.75" lengthAdjust="spacingAndGlyphs" fill="#1e1e1e">6</text>
<line x1="463.6" y1="142.5" x2="463.6" y2="146.8" stroke="#858585" stroke-width="0.85" />
<text x="463.6" y="156.7" font-size="8.4" text-anchor="middle" textLength="4.75" lengthAdjust="spacingAndGlyphs" fill="#1e1e1e">0</text>
<line x1="477.2" y1="142.5" x2="477.2" y2="146.8" stroke="#858585" stroke-width="0.85" />
<text x="477.2" y="156.7" font-size="8.4" text-anchor="middle" textLength="4.75" lengthAdjust="spacingAndGlyphs" fill="#1e1e1e">2</text>
<line x1="491.3" y1="142.5" x2="491.3" y2="146.8" stroke="#858585" stroke-width="0.85" />
<text x="491.3" y="156.7" font-size="8.4" text-anchor="middle" textLength="4.75" lengthAdjust="spacingAndGlyphs" fill="#1e1e1e">4</text>
<line x1="504.4" y1="142.5" x2="504.4" y2="146.8" stroke="#858585" stroke-width="0.85" />
<text x="504.4" y="156.7" font-size="8.4" text-anchor="middle" textLength="4.75" lengthAdjust="spacingAndGlyphs" fill="#1e1e1e">6</text>
<line x1="45.9" y1="224.2" x2="221" y2="224.2" stroke="#767676" stroke-width="1.1" stroke-dasharray="4 2"/>
<line x1="39.4" y1="272.8" x2="221" y2="272.8" stroke="#acacac" stroke-width="1.3" stroke-dasharray="4 2"/>
<path d="M49.55 292.15V249.3H57.85V292.15M49.55 302.3V313.5M57.85 302.3V313.5" fill="none" stroke="#8f8f8f" stroke-width="0.8"/>
<circle cx="53.7" cy="227.7" r="1.35" fill="none" stroke="#8a8a8a" stroke-width="0.55"/>
<circle cx="53.7" cy="231.2" r="1.35" fill="none" stroke="#8a8a8a" stroke-width="0.55"/>
<circle cx="53.7" cy="235" r="1.35" fill="none" stroke="#8a8a8a" stroke-width="0.55"/>
<circle cx="50.5" cy="243.8" r="1.35" fill="none" stroke="#8a8a8a" stroke-width="0.55"/>
<circle cx="56.7" cy="243.8" r="1.35" fill="none" stroke="#8a8a8a" stroke-width="0.55"/>
<circle cx="50.5" cy="247.6" r="1.35" fill="none" stroke="#8a8a8a" stroke-width="0.55"/>
<circle cx="50.6" cy="253.4" r="1.35" fill="none" stroke="#8a8a8a" stroke-width="0.55"/>
<circle cx="56.7" cy="254.5" r="1.35" fill="none" stroke="#8a8a8a" stroke-width="0.55"/>
<circle cx="53.7" cy="259.5" r="1.35" fill="none" stroke="#8a8a8a" stroke-width="0.55"/>
<circle cx="53.7" cy="263.5" r="1.35" fill="none" stroke="#8a8a8a" stroke-width="0.55"/>
<circle cx="53.7" cy="266.2" r="1.35" fill="none" stroke="#8a8a8a" stroke-width="0.55"/>
<path d="M53.7 235.5V262.6M51.5 235.5H55.9M51.5 262.6H55.9" fill="none" stroke="#555555" stroke-width="0.7"/>
<path d="M62.43 292.15V250.8H70.73V292.15M62.43 302.3V313.5M70.73 302.3V313.5" fill="none" stroke="#8f8f8f" stroke-width="0.8"/>
<circle cx="66.58" cy="225.5" r="1.35" fill="none" stroke="#8a8a8a" stroke-width="0.55"/>
<circle cx="66.58" cy="234.5" r="1.35" fill="none" stroke="#8a8a8a" stroke-width="0.55"/>
<circle cx="66.58" cy="243.5" r="1.35" fill="none" stroke="#8a8a8a" stroke-width="0.55"/>
<circle cx="69.18" cy="242.9" r="1.35" fill="none" stroke="#8a8a8a" stroke-width="0.55"/>
<circle cx="63.48" cy="251.4" r="1.35" fill="none" stroke="#8a8a8a" stroke-width="0.55"/>
<circle cx="69.48" cy="251.4" r="1.35" fill="none" stroke="#8a8a8a" stroke-width="0.55"/>
<circle cx="66.58" cy="254" r="1.35" fill="none" stroke="#8a8a8a" stroke-width="0.55"/>
<circle cx="66.58" cy="256.5" r="1.35" fill="none" stroke="#8a8a8a" stroke-width="0.55"/>
<circle cx="66.58" cy="260.4" r="1.35" fill="none" stroke="#8a8a8a" stroke-width="0.55"/>
<circle cx="64.68" cy="269.4" r="1.35" fill="none" stroke="#8a8a8a" stroke-width="0.55"/>
<circle cx="67.88" cy="267.2" r="1.35" fill="none" stroke="#8a8a8a" stroke-width="0.55"/>
<path d="M66.58 238V263.2M64.38 238H68.78M64.38 263.2H68.78" fill="none" stroke="#555555" stroke-width="0.7"/>
<path d="M75.31 292.15V244.8H83.61V292.15M75.31 302.3V313.5M83.61 302.3V313.5" fill="none" stroke="#8f8f8f" stroke-width="0.8"/>
<circle cx="79.46" cy="224.4" r="1.35" fill="none" stroke="#8a8a8a" stroke-width="0.55"/>
<circle cx="76.26" cy="237.5" r="1.35" fill="none" stroke="#8a8a8a" stroke-width="0.55"/>
<circle cx="79.46" cy="237.5" r="1.35" fill="none" stroke="#8a8a8a" stroke-width="0.55"/>
<circle cx="82.46" cy="237.5" r="1.35" fill="none" stroke="#8a8a8a" stroke-width="0.55"/>
<circle cx="79.46" cy="240.1" r="1.35" fill="none" stroke="#8a8a8a" stroke-width="0.55"/>
<circle cx="79.46" cy="246.5" r="1.35" fill="none" stroke="#8a8a8a" stroke-width="0.55"/>
<circle cx="79.46" cy="250" r="1.35" fill="none" stroke="#8a8a8a" stroke-width="0.55"/>
<circle cx="76.76" cy="251.7" r="1.35" fill="none" stroke="#8a8a8a" stroke-width="0.55"/>
<circle cx="81.76" cy="251" r="1.35" fill="none" stroke="#8a8a8a" stroke-width="0.55"/>
<circle cx="79.46" cy="263.2" r="1.35" fill="none" stroke="#8a8a8a" stroke-width="0.55"/>
<circle cx="79.46" cy="266.8" r="1.35" fill="none" stroke="#8a8a8a" stroke-width="0.55"/>
<path d="M79.46 232.5V256.9M77.26 232.5H81.66M77.26 256.9H81.66" fill="none" stroke="#555555" stroke-width="0.7"/>
<path d="M88.19 292.15V249.5H96.49V292.15M88.19 302.3V313.5M96.49 302.3V313.5" fill="none" stroke="#8f8f8f" stroke-width="0.8"/>
<circle cx="92.34" cy="234.2" r="1.35" fill="none" stroke="#8a8a8a" stroke-width="0.55"/>
<circle cx="89.64" cy="237.5" r="1.35" fill="none" stroke="#8a8a8a" stroke-width="0.55"/>
<circle cx="95.04" cy="237.5" r="1.35" fill="none" stroke="#8a8a8a" stroke-width="0.55"/>
<circle cx="89.84" cy="245.3" r="1.35" fill="none" stroke="#8a8a8a" stroke-width="0.55"/>
<circle cx="95.34" cy="245.3" r="1.35" fill="none" stroke="#8a8a8a" stroke-width="0.55"/>
<circle cx="89.84" cy="248.2" r="1.35" fill="none" stroke="#8a8a8a" stroke-width="0.55"/>
<circle cx="95.34" cy="248.2" r="1.35" fill="none" stroke="#8a8a8a" stroke-width="0.55"/>
<circle cx="92.34" cy="253.2" r="1.35" fill="none" stroke="#8a8a8a" stroke-width="0.55"/>
<circle cx="89.84" cy="262.5" r="1.35" fill="none" stroke="#8a8a8a" stroke-width="0.55"/>
<circle cx="94.84" cy="262.5" r="1.35" fill="none" stroke="#8a8a8a" stroke-width="0.55"/>
<circle cx="92.34" cy="274.3" r="1.35" fill="none" stroke="#8a8a8a" stroke-width="0.55"/>
<path d="M92.34 236.8V261.5M90.14 236.8H94.54M90.14 261.5H94.54" fill="none" stroke="#555555" stroke-width="0.7"/>
<rect x="109.75" y="251" width="8.9" height="41.15" fill="#74cffa"/>
<rect x="109.75" y="302.3" width="8.9" height="11.2" fill="#74cffa"/>
<circle cx="114.2" cy="234.3" r="1.35" fill="none" stroke="#8a8a8a" stroke-width="0.55"/>
<circle cx="114.2" cy="240" r="1.35" fill="none" stroke="#8a8a8a" stroke-width="0.55"/>
<circle cx="110.9" cy="243.7" r="1.35" fill="none" stroke="#8a8a8a" stroke-width="0.55"/>
<circle cx="114.2" cy="245" r="1.35" fill="none" stroke="#8a8a8a" stroke-width="0.55"/>
<circle cx="117.4" cy="245.7" r="1.35" fill="none" stroke="#8a8a8a" stroke-width="0.55"/>
<circle cx="117.4" cy="247.3" r="1.35" fill="none" stroke="#8a8a8a" stroke-width="0.55"/>
<circle cx="111.2" cy="252.5" r="1.35" fill="none" stroke="#8a8a8a" stroke-width="0.55"/>
<circle cx="117.2" cy="254.6" r="1.35" fill="none" stroke="#8a8a8a" stroke-width="0.55"/>
<circle cx="110.9" cy="261.4" r="1.35" fill="none" stroke="#8a8a8a" stroke-width="0.55"/>
<circle cx="117.5" cy="261.4" r="1.35" fill="none" stroke="#8a8a8a" stroke-width="0.55"/>
<circle cx="114.2" cy="270" r="1.35" fill="none" stroke="#8a8a8a" stroke-width="0.55"/>
<path d="M114.2 240.5V261.4M112 240.5H116.4M112 261.4H116.4" fill="none" stroke="#555555" stroke-width="0.7"/>
<rect x="122.63" y="244.6" width="8.9" height="47.55" fill="#74cffa"/>
<rect x="122.63" y="302.3" width="8.9" height="11.2" fill="#74cffa"/>
<circle cx="127.08" cy="222.5" r="1.35" fill="none" stroke="#8a8a8a" stroke-width="0.55"/>
<circle cx="127.08" cy="229" r="1.35" fill="none" stroke="#8a8a8a" stroke-width="0.55"/>
<circle cx="124.78" cy="233.4" r="1.35" fill="none" stroke="#8a8a8a" stroke-width="0.55"/>
<circle cx="129.38" cy="233.4" r="1.35" fill="none" stroke="#8a8a8a" stroke-width="0.55"/>
<circle cx="127.08" cy="239.4" r="1.35" fill="none" stroke="#8a8a8a" stroke-width="0.55"/>
<circle cx="130.08" cy="241.4" r="1.35" fill="none" stroke="#8a8a8a" stroke-width="0.55"/>
<circle cx="127.08" cy="242.5" r="1.35" fill="none" stroke="#8a8a8a" stroke-width="0.55"/>
<circle cx="127.08" cy="257.5" r="1.35" fill="none" stroke="#8a8a8a" stroke-width="0.55"/>
<circle cx="124.48" cy="267.1" r="1.35" fill="none" stroke="#8a8a8a" stroke-width="0.55"/>
<circle cx="127.08" cy="264.5" r="1.35" fill="none" stroke="#8a8a8a" stroke-width="0.55"/>
<circle cx="129.68" cy="267" r="1.35" fill="none" stroke="#8a8a8a" stroke-width="0.55"/>
<path d="M127.08 229.3V259.9M124.88 229.3H129.28M124.88 259.9H129.28" fill="none" stroke="#555555" stroke-width="0.7"/>
<rect x="135.51" y="244" width="8.9" height="48.15" fill="#74cffa"/>
<rect x="135.51" y="302.3" width="8.9" height="11.2" fill="#74cffa"/>
<circle cx="139.96" cy="222" r="1.35" fill="none" stroke="#8a8a8a" stroke-width="0.55"/>
<circle cx="139.96" cy="224.5" r="1.35" fill="none" stroke="#8a8a8a" stroke-width="0.55"/>
<circle cx="136.76" cy="231.3" r="1.35" fill="none" stroke="#8a8a8a" stroke-width="0.55"/>
<circle cx="139.96" cy="233" r="1.35" fill="none" stroke="#8a8a8a" stroke-width="0.55"/>
<circle cx="139.96" cy="237" r="1.35" fill="none" stroke="#8a8a8a" stroke-width="0.55"/>
<circle cx="136.76" cy="245" r="1.35" fill="none" stroke="#8a8a8a" stroke-width="0.55"/>
<circle cx="142.76" cy="245" r="1.35" fill="none" stroke="#8a8a8a" stroke-width="0.55"/>
<circle cx="136.66" cy="247.7" r="1.35" fill="none" stroke="#8a8a8a" stroke-width="0.55"/>
<circle cx="139.96" cy="247.5" r="1.35" fill="none" stroke="#8a8a8a" stroke-width="0.55"/>
<circle cx="142.76" cy="247.7" r="1.35" fill="none" stroke="#8a8a8a" stroke-width="0.55"/>
<circle cx="139.96" cy="264.5" r="1.35" fill="none" stroke="#8a8a8a" stroke-width="0.55"/>
<path d="M139.96 226.7V260.4M137.76 226.7H142.16M137.76 260.4H142.16" fill="none" stroke="#555555" stroke-width="0.7"/>
<rect x="148.39" y="251.1" width="8.9" height="41.05" fill="#74cffa"/>
<rect x="148.39" y="302.3" width="8.9" height="11.2" fill="#74cffa"/>
<circle cx="152.84" cy="229.3" r="1.35" fill="none" stroke="#8a8a8a" stroke-width="0.55"/>
<circle cx="149.94" cy="239.5" r="1.35" fill="none" stroke="#8a8a8a" stroke-width="0.55"/>
<circle cx="155.64" cy="239.5" r="1.35" fill="none" stroke="#8a8a8a" stroke-width="0.55"/>
<circle cx="152.84" cy="245" r="1.35" fill="none" stroke="#8a8a8a" stroke-width="0.55"/>
<circle cx="152.84" cy="251.5" r="1.35" fill="none" stroke="#8a8a8a" stroke-width="0.55"/>
<circle cx="149.94" cy="252.7" r="1.35" fill="none" stroke="#8a8a8a" stroke-width="0.55"/>
<circle cx="155.64" cy="252.7" r="1.35" fill="none" stroke="#8a8a8a" stroke-width="0.55"/>
<circle cx="155.64" cy="254.5" r="1.35" fill="none" stroke="#8a8a8a" stroke-width="0.55"/>
<circle cx="152.84" cy="256.6" r="1.35" fill="none" stroke="#8a8a8a" stroke-width="0.55"/>
<circle cx="152.84" cy="268" r="1.35" fill="none" stroke="#8a8a8a" stroke-width="0.55"/>
<circle cx="152.84" cy="273.6" r="1.35" fill="none" stroke="#8a8a8a" stroke-width="0.55"/>
<path d="M152.84 238.5V264.5M150.64 238.5H155.04M150.64 264.5H155.04" fill="none" stroke="#555555" stroke-width="0.7"/>
<rect x="170.05" y="250.4" width="8.9" height="41.75" fill="#ff7474"/>
<rect x="170.05" y="302.3" width="8.9" height="11.2" fill="#ff7474"/>
<circle cx="174.5" cy="218.8" r="1.35" fill="none" stroke="#8a8a8a" stroke-width="0.55"/>
<circle cx="174.5" cy="233.2" r="1.35" fill="none" stroke="#8a8a8a" stroke-width="0.55"/>
<circle cx="174.5" cy="244.5" r="1.35" fill="none" stroke="#8a8a8a" stroke-width="0.55"/>
<circle cx="171.3" cy="249.4" r="1.35" fill="none" stroke="#8a8a8a" stroke-width="0.55"/>
<circle cx="174.5" cy="249.5" r="1.35" fill="none" stroke="#8a8a8a" stroke-width="0.55"/>
<circle cx="177.8" cy="249.4" r="1.35" fill="none" stroke="#8a8a8a" stroke-width="0.55"/>
<circle cx="174.5" cy="252" r="1.35" fill="none" stroke="#8a8a8a" stroke-width="0.55"/>
<circle cx="174.5" cy="258.8" r="1.35" fill="none" stroke="#8a8a8a" stroke-width="0.55"/>
<circle cx="174.5" cy="262" r="1.35" fill="none" stroke="#8a8a8a" stroke-width="0.55"/>
<circle cx="173.1" cy="271.4" r="1.35" fill="none" stroke="#8a8a8a" stroke-width="0.55"/>
<circle cx="175.8" cy="269.3" r="1.35" fill="none" stroke="#8a8a8a" stroke-width="0.55"/>
<path d="M174.5 236.5V265.5M172.3 236.5H176.7M172.3 265.5H176.7" fill="none" stroke="#555555" stroke-width="0.7"/>
<rect x="182.93" y="247.1" width="8.9" height="45.05" fill="#ff7474"/>
<rect x="182.93" y="302.3" width="8.9" height="11.2" fill="#ff7474"/>
<circle cx="187.38" cy="227.3" r="1.35" fill="none" stroke="#8a8a8a" stroke-width="0.55"/>
<circle cx="187.38" cy="230.4" r="1.35" fill="none" stroke="#8a8a8a" stroke-width="0.55"/>
<circle cx="184.38" cy="233.2" r="1.35" fill="none" stroke="#8a8a8a" stroke-width="0.55"/>
<circle cx="190.68" cy="233.2" r="1.35" fill="none" stroke="#8a8a8a" stroke-width="0.55"/>
<circle cx="187.38" cy="240" r="1.35" fill="none" stroke="#8a8a8a" stroke-width="0.55"/>
<circle cx="184.08" cy="245.9" r="1.35" fill="none" stroke="#8a8a8a" stroke-width="0.55"/>
<circle cx="190.68" cy="246.5" r="1.35" fill="none" stroke="#8a8a8a" stroke-width="0.55"/>
<circle cx="187.38" cy="254.6" r="1.35" fill="none" stroke="#8a8a8a" stroke-width="0.55"/>
<circle cx="184.48" cy="257.6" r="1.35" fill="none" stroke="#8a8a8a" stroke-width="0.55"/>
<circle cx="190.48" cy="257.6" r="1.35" fill="none" stroke="#8a8a8a" stroke-width="0.55"/>
<circle cx="184.98" cy="271.1" r="1.35" fill="none" stroke="#8a8a8a" stroke-width="0.55"/>
<circle cx="190.48" cy="271.1" r="1.35" fill="none" stroke="#8a8a8a" stroke-width="0.55"/>
<path d="M187.38 232.3V262.2M185.18 232.3H189.58M185.18 262.2H189.58" fill="none" stroke="#555555" stroke-width="0.7"/>
<rect x="195.81" y="244.9" width="8.9" height="47.25" fill="#ff7474"/>
<rect x="195.81" y="302.3" width="8.9" height="11.2" fill="#ff7474"/>
<circle cx="197.46" cy="225.8" r="1.35" fill="none" stroke="#8a8a8a" stroke-width="0.55"/>
<circle cx="203.56" cy="224.5" r="1.35" fill="none" stroke="#8a8a8a" stroke-width="0.55"/>
<circle cx="197.06" cy="230.4" r="1.35" fill="none" stroke="#8a8a8a" stroke-width="0.55"/>
<circle cx="203.56" cy="230.4" r="1.35" fill="none" stroke="#8a8a8a" stroke-width="0.55"/>
<circle cx="197.06" cy="239.5" r="1.35" fill="none" stroke="#8a8a8a" stroke-width="0.55"/>
<circle cx="203.56" cy="240.2" r="1.35" fill="none" stroke="#8a8a8a" stroke-width="0.55"/>
<circle cx="200.26" cy="246.4" r="1.35" fill="none" stroke="#8a8a8a" stroke-width="0.55"/>
<circle cx="197.16" cy="256.3" r="1.35" fill="none" stroke="#8a8a8a" stroke-width="0.55"/>
<circle cx="203.66" cy="257.8" r="1.35" fill="none" stroke="#8a8a8a" stroke-width="0.55"/>
<circle cx="197.16" cy="261.2" r="1.35" fill="none" stroke="#8a8a8a" stroke-width="0.55"/>
<circle cx="203.66" cy="262.2" r="1.35" fill="none" stroke="#8a8a8a" stroke-width="0.55"/>
<circle cx="200.26" cy="266.2" r="1.35" fill="none" stroke="#8a8a8a" stroke-width="0.55"/>
<path d="M200.26 229.9V260.3M198.06 229.9H202.46M198.06 260.3H202.46" fill="none" stroke="#555555" stroke-width="0.7"/>
<rect x="208.69" y="251.4" width="8.9" height="40.75" fill="#ff7474"/>
<rect x="208.69" y="302.3" width="8.9" height="11.2" fill="#ff7474"/>
<circle cx="210.14" cy="230.3" r="1.35" fill="none" stroke="#8a8a8a" stroke-width="0.55"/>
<circle cx="216.64" cy="231.4" r="1.35" fill="none" stroke="#8a8a8a" stroke-width="0.55"/>
<circle cx="213.14" cy="235.2" r="1.35" fill="none" stroke="#8a8a8a" stroke-width="0.55"/>
<circle cx="210.04" cy="247.4" r="1.35" fill="none" stroke="#8a8a8a" stroke-width="0.55"/>
<circle cx="216.44" cy="247.4" r="1.35" fill="none" stroke="#8a8a8a" stroke-width="0.55"/>
<circle cx="213.14" cy="251" r="1.35" fill="none" stroke="#8a8a8a" stroke-width="0.55"/>
<circle cx="210.04" cy="257.6" r="1.35" fill="none" stroke="#8a8a8a" stroke-width="0.55"/>
<circle cx="216.44" cy="255" r="1.35" fill="none" stroke="#8a8a8a" stroke-width="0.55"/>
<circle cx="216.44" cy="258.5" r="1.35" fill="none" stroke="#8a8a8a" stroke-width="0.55"/>
<circle cx="210.04" cy="261.9" r="1.35" fill="none" stroke="#8a8a8a" stroke-width="0.55"/>
<circle cx="216.44" cy="264" r="1.35" fill="none" stroke="#8a8a8a" stroke-width="0.55"/>
<circle cx="213.14" cy="272.4" r="1.35" fill="none" stroke="#8a8a8a" stroke-width="0.55"/>
<path d="M213.14 238V264.2M210.94 238H215.34M210.94 264.2H215.34" fill="none" stroke="#555555" stroke-width="0.7"/>
<line x1="45.5" y1="195.4" x2="45.5" y2="292.15" stroke="#8c8c8c" stroke-width="0.9" />
<line x1="45.5" y1="302.3" x2="45.5" y2="313.5" stroke="#8c8c8c" stroke-width="0.9" />
<line x1="45.5" y1="313.5" x2="221.3" y2="313.5" stroke="#8c8c8c" stroke-width="0.9" />
<line x1="39.2" y1="195.4" x2="45.5" y2="195.4" stroke="#9a9a9a" stroke-width="0.9" />
<text x="35" y="198.15" font-size="8.4" text-anchor="end" textLength="12.7" lengthAdjust="spacingAndGlyphs" fill="#1e1e1e">130</text>
<line x1="39.2" y1="214.75" x2="45.5" y2="214.75" stroke="#9a9a9a" stroke-width="0.9" />
<text x="35" y="217.5" font-size="8.4" text-anchor="end" textLength="10.55" lengthAdjust="spacingAndGlyphs" fill="#1e1e1e">110</text>
<line x1="39.2" y1="234.1" x2="45.5" y2="234.1" stroke="#9a9a9a" stroke-width="0.9" />
<text x="35" y="236.85" font-size="8.4" text-anchor="end" textLength="9.8" lengthAdjust="spacingAndGlyphs" fill="#1e1e1e">90</text>
<line x1="39.2" y1="253.45" x2="45.5" y2="253.45" stroke="#9a9a9a" stroke-width="0.9" />
<text x="35" y="256.2" font-size="8.4" text-anchor="end" textLength="9.8" lengthAdjust="spacingAndGlyphs" fill="#1e1e1e">70</text>
<line x1="39.2" y1="272.8" x2="45.5" y2="272.8" stroke="#9a9a9a" stroke-width="0.9" />
<text x="35" y="275.55" font-size="8.4" text-anchor="end" textLength="9.8" lengthAdjust="spacingAndGlyphs" fill="#1e1e1e">50</text>
<line x1="41.7" y1="292.15" x2="47.8" y2="292.15" stroke="#9a9a9a" stroke-width="0.9" />
<text x="35" y="294.9" font-size="8.4" text-anchor="end" textLength="9.8" lengthAdjust="spacingAndGlyphs" fill="#1e1e1e">30</text>
<line x1="41.7" y1="302.3" x2="47.8" y2="302.3" stroke="#9a9a9a" stroke-width="0.9" />
<text x="35" y="305.05" font-size="8.4" text-anchor="end" textLength="7.65" lengthAdjust="spacingAndGlyphs" fill="#1e1e1e">10</text>
<line x1="40.2" y1="312.8" x2="45.5" y2="312.8" stroke="#9a9a9a" stroke-width="0.9" />
<text x="35" y="315.55" font-size="8.4" text-anchor="end" textLength="4.75" lengthAdjust="spacingAndGlyphs" fill="#1e1e1e">0</text>
<line x1="53.7" y1="313.5" x2="53.7" y2="317.8" stroke="#858585" stroke-width="0.85" />
<text x="53.7" y="327.4" font-size="8.4" text-anchor="middle" textLength="4.75" lengthAdjust="spacingAndGlyphs" fill="#1e1e1e">0</text>
<line x1="66.58" y1="313.5" x2="66.58" y2="317.8" stroke="#858585" stroke-width="0.85" />
<text x="66.58" y="327.4" font-size="8.4" text-anchor="middle" textLength="4.75" lengthAdjust="spacingAndGlyphs" fill="#1e1e1e">2</text>
<line x1="79.46" y1="313.5" x2="79.46" y2="317.8" stroke="#858585" stroke-width="0.85" />
<text x="79.46" y="327.4" font-size="8.4" text-anchor="middle" textLength="4.75" lengthAdjust="spacingAndGlyphs" fill="#1e1e1e">4</text>
<line x1="92.34" y1="313.5" x2="92.34" y2="317.8" stroke="#858585" stroke-width="0.85" />
<text x="92.34" y="327.4" font-size="8.4" text-anchor="middle" textLength="4.75" lengthAdjust="spacingAndGlyphs" fill="#1e1e1e">6</text>
<line x1="114.2" y1="313.5" x2="114.2" y2="317.8" stroke="#858585" stroke-width="0.85" />
<text x="114.2" y="327.4" font-size="8.4" text-anchor="middle" textLength="4.75" lengthAdjust="spacingAndGlyphs" fill="#1e1e1e">0</text>
<line x1="127.08" y1="313.5" x2="127.08" y2="317.8" stroke="#858585" stroke-width="0.85" />
<text x="127.08" y="327.4" font-size="8.4" text-anchor="middle" textLength="4.75" lengthAdjust="spacingAndGlyphs" fill="#1e1e1e">2</text>
<line x1="139.96" y1="313.5" x2="139.96" y2="317.8" stroke="#858585" stroke-width="0.85" />
<text x="139.96" y="327.4" font-size="8.4" text-anchor="middle" textLength="4.75" lengthAdjust="spacingAndGlyphs" fill="#1e1e1e">4</text>
<line x1="152.84" y1="313.5" x2="152.84" y2="317.8" stroke="#858585" stroke-width="0.85" />
<text x="152.84" y="327.4" font-size="8.4" text-anchor="middle" textLength="4.75" lengthAdjust="spacingAndGlyphs" fill="#1e1e1e">6</text>
<line x1="174.5" y1="313.5" x2="174.5" y2="317.8" stroke="#858585" stroke-width="0.85" />
<text x="174.5" y="327.4" font-size="8.4" text-anchor="middle" textLength="4.75" lengthAdjust="spacingAndGlyphs" fill="#1e1e1e">0</text>
<line x1="187.38" y1="313.5" x2="187.38" y2="317.8" stroke="#858585" stroke-width="0.85" />
<text x="187.38" y="327.4" font-size="8.4" text-anchor="middle" textLength="4.75" lengthAdjust="spacingAndGlyphs" fill="#1e1e1e">2</text>
<line x1="200.26" y1="313.5" x2="200.26" y2="317.8" stroke="#858585" stroke-width="0.85" />
<text x="200.26" y="327.4" font-size="8.4" text-anchor="middle" textLength="4.75" lengthAdjust="spacingAndGlyphs" fill="#1e1e1e">4</text>
<line x1="213.14" y1="313.5" x2="213.14" y2="317.8" stroke="#858585" stroke-width="0.85" />
<text x="213.14" y="327.4" font-size="8.4" text-anchor="middle" textLength="4.75" lengthAdjust="spacingAndGlyphs" fill="#1e1e1e">6</text>
<line x1="270" y1="219.9" x2="451.8" y2="219.9" stroke="#acacac" stroke-width="1.3" stroke-dasharray="4 2"/>
<line x1="276.4" y1="256.1" x2="451.8" y2="256.1" stroke="#acacac" stroke-width="1.3" stroke-dasharray="4 2"/>
<path d="M280.65 292.4V243.1H288.95V292.4M280.65 302.3V313.5M288.95 302.3V313.5" fill="none" stroke="#8f8f8f" stroke-width="0.8"/>
<circle cx="284.8" cy="211.7" r="1.35" fill="none" stroke="#8a8a8a" stroke-width="0.55"/>
<circle cx="284.8" cy="223.4" r="1.35" fill="none" stroke="#8a8a8a" stroke-width="0.55"/>
<circle cx="284.8" cy="227" r="1.35" fill="none" stroke="#8a8a8a" stroke-width="0.55"/>
<circle cx="284.8" cy="230.8" r="1.35" fill="none" stroke="#8a8a8a" stroke-width="0.55"/>
<circle cx="281.6" cy="239.2" r="1.35" fill="none" stroke="#8a8a8a" stroke-width="0.55"/>
<circle cx="287.9" cy="239.2" r="1.35" fill="none" stroke="#8a8a8a" stroke-width="0.55"/>
<circle cx="281.6" cy="245" r="1.35" fill="none" stroke="#8a8a8a" stroke-width="0.55"/>
<circle cx="287.9" cy="245" r="1.35" fill="none" stroke="#8a8a8a" stroke-width="0.55"/>
<circle cx="284.8" cy="247.4" r="1.35" fill="none" stroke="#8a8a8a" stroke-width="0.55"/>
<circle cx="284.8" cy="261" r="1.35" fill="none" stroke="#8a8a8a" stroke-width="0.55"/>
<circle cx="281.6" cy="271.4" r="1.35" fill="none" stroke="#8a8a8a" stroke-width="0.55"/>
<circle cx="288.2" cy="270.3" r="1.35" fill="none" stroke="#8a8a8a" stroke-width="0.55"/>
<path d="M284.8 224.3V261.3M282.6 224.3H287M282.6 261.3H287" fill="none" stroke="#555555" stroke-width="0.7"/>
<path d="M293.53 292.4V246.2H301.83V292.4M293.53 302.3V313.5M301.83 302.3V313.5" fill="none" stroke="#8f8f8f" stroke-width="0.8"/>
<circle cx="297.68" cy="211.6" r="1.35" fill="none" stroke="#8a8a8a" stroke-width="0.55"/>
<circle cx="297.68" cy="223.4" r="1.35" fill="none" stroke="#8a8a8a" stroke-width="0.55"/>
<circle cx="297.68" cy="235.5" r="1.35" fill="none" stroke="#8a8a8a" stroke-width="0.55"/>
<circle cx="297.68" cy="239" r="1.35" fill="none" stroke="#8a8a8a" stroke-width="0.55"/>
<circle cx="297.68" cy="254.9" r="1.35" fill="none" stroke="#8a8a8a" stroke-width="0.55"/>
<circle cx="297.68" cy="256.5" r="1.35" fill="none" stroke="#8a8a8a" stroke-width="0.55"/>
<circle cx="295.18" cy="257.8" r="1.35" fill="none" stroke="#8a8a8a" stroke-width="0.55"/>
<circle cx="300.18" cy="257.8" r="1.35" fill="none" stroke="#8a8a8a" stroke-width="0.55"/>
<circle cx="295.18" cy="260.5" r="1.35" fill="none" stroke="#8a8a8a" stroke-width="0.55"/>
<circle cx="300.18" cy="260" r="1.35" fill="none" stroke="#8a8a8a" stroke-width="0.55"/>
<circle cx="297.68" cy="262.5" r="1.35" fill="none" stroke="#8a8a8a" stroke-width="0.55"/>
<path d="M297.68 230.4V261.9M295.48 230.4H299.88M295.48 261.9H299.88" fill="none" stroke="#555555" stroke-width="0.7"/>
<path d="M306.41 292.4V246.2H314.71V292.4M306.41 302.3V313.5M314.71 302.3V313.5" fill="none" stroke="#8f8f8f" stroke-width="0.8"/>
<circle cx="310.56" cy="226" r="1.35" fill="none" stroke="#8a8a8a" stroke-width="0.55"/>
<circle cx="310.56" cy="232.5" r="1.35" fill="none" stroke="#8a8a8a" stroke-width="0.55"/>
<circle cx="310.56" cy="235.5" r="1.35" fill="none" stroke="#8a8a8a" stroke-width="0.55"/>
<circle cx="307.46" cy="237.5" r="1.35" fill="none" stroke="#8a8a8a" stroke-width="0.55"/>
<circle cx="310.56" cy="239.5" r="1.35" fill="none" stroke="#8a8a8a" stroke-width="0.55"/>
<circle cx="310.56" cy="243.5" r="1.35" fill="none" stroke="#8a8a8a" stroke-width="0.55"/>
<circle cx="310.56" cy="252.6" r="1.35" fill="none" stroke="#8a8a8a" stroke-width="0.55"/>
<circle cx="307.96" cy="263" r="1.35" fill="none" stroke="#8a8a8a" stroke-width="0.55"/>
<circle cx="313.16" cy="263" r="1.35" fill="none" stroke="#8a8a8a" stroke-width="0.55"/>
<circle cx="310.56" cy="270.6" r="1.35" fill="none" stroke="#8a8a8a" stroke-width="0.55"/>
<path d="M310.56 233V259.8M308.36 233H312.76M308.36 259.8H312.76" fill="none" stroke="#555555" stroke-width="0.7"/>
<path d="M319.29 292.4V242.7H327.59V292.4M319.29 302.3V313.5M327.59 302.3V313.5" fill="none" stroke="#8f8f8f" stroke-width="0.8"/>
<circle cx="323.44" cy="211.6" r="1.35" fill="none" stroke="#8a8a8a" stroke-width="0.55"/>
<circle cx="323.44" cy="229.5" r="1.35" fill="none" stroke="#8a8a8a" stroke-width="0.55"/>
<circle cx="320.54" cy="233.2" r="1.35" fill="none" stroke="#8a8a8a" stroke-width="0.55"/>
<circle cx="326.54" cy="234.3" r="1.35" fill="none" stroke="#8a8a8a" stroke-width="0.55"/>
<circle cx="320.54" cy="240.4" r="1.35" fill="none" stroke="#8a8a8a" stroke-width="0.55"/>
<circle cx="326.14" cy="240.5" r="1.35" fill="none" stroke="#8a8a8a" stroke-width="0.55"/>
<circle cx="320.94" cy="248.5" r="1.35" fill="none" stroke="#8a8a8a" stroke-width="0.55"/>
<circle cx="325.94" cy="248" r="1.35" fill="none" stroke="#8a8a8a" stroke-width="0.55"/>
<circle cx="323.44" cy="251.5" r="1.35" fill="none" stroke="#8a8a8a" stroke-width="0.55"/>
<circle cx="323.44" cy="254.5" r="1.35" fill="none" stroke="#8a8a8a" stroke-width="0.55"/>
<path d="M323.44 226V258.2M321.24 226H325.64M321.24 258.2H325.64" fill="none" stroke="#555555" stroke-width="0.7"/>
<rect x="340.45" y="244" width="8.9" height="48.4" fill="#74cffa"/>
<rect x="340.45" y="302.3" width="8.9" height="11.2" fill="#74cffa"/>
<circle cx="341.6" cy="217" r="1.35" fill="none" stroke="#8a8a8a" stroke-width="0.55"/>
<circle cx="344.9" cy="216.5" r="1.35" fill="none" stroke="#8a8a8a" stroke-width="0.55"/>
<circle cx="347.7" cy="218" r="1.35" fill="none" stroke="#8a8a8a" stroke-width="0.55"/>
<circle cx="344.9" cy="238.8" r="1.35" fill="none" stroke="#8a8a8a" stroke-width="0.55"/>
<circle cx="341.5" cy="242.4" r="1.35" fill="none" stroke="#8a8a8a" stroke-width="0.55"/>
<circle cx="344.9" cy="242.4" r="1.35" fill="none" stroke="#8a8a8a" stroke-width="0.55"/>
<circle cx="348.1" cy="242.4" r="1.35" fill="none" stroke="#8a8a8a" stroke-width="0.55"/>
<circle cx="341.5" cy="246.5" r="1.35" fill="none" stroke="#8a8a8a" stroke-width="0.55"/>
<circle cx="348.1" cy="246.5" r="1.35" fill="none" stroke="#8a8a8a" stroke-width="0.55"/>
<circle cx="344.9" cy="254.6" r="1.35" fill="none" stroke="#8a8a8a" stroke-width="0.55"/>
<circle cx="344.9" cy="266.4" r="1.35" fill="none" stroke="#8a8a8a" stroke-width="0.55"/>
<circle cx="344.9" cy="269.1" r="1.35" fill="none" stroke="#8a8a8a" stroke-width="0.55"/>
<path d="M344.9 228.5V260.3M342.7 228.5H347.1M342.7 260.3H347.1" fill="none" stroke="#555555" stroke-width="0.7"/>
<rect x="353.33" y="241.7" width="8.9" height="50.7" fill="#74cffa"/>
<rect x="353.33" y="302.3" width="8.9" height="11.2" fill="#74cffa"/>
<circle cx="357.78" cy="225.3" r="1.35" fill="none" stroke="#8a8a8a" stroke-width="0.55"/>
<circle cx="357.78" cy="228.3" r="1.35" fill="none" stroke="#8a8a8a" stroke-width="0.55"/>
<circle cx="357.78" cy="233.5" r="1.35" fill="none" stroke="#8a8a8a" stroke-width="0.55"/>
<circle cx="357.78" cy="236.4" r="1.35" fill="none" stroke="#8a8a8a" stroke-width="0.55"/>
<circle cx="354.78" cy="241" r="1.35" fill="none" stroke="#8a8a8a" stroke-width="0.55"/>
<circle cx="361.08" cy="241.5" r="1.35" fill="none" stroke="#8a8a8a" stroke-width="0.55"/>
<circle cx="357.78" cy="244.3" r="1.35" fill="none" stroke="#8a8a8a" stroke-width="0.55"/>
<circle cx="357.78" cy="247" r="1.35" fill="none" stroke="#8a8a8a" stroke-width="0.55"/>
<circle cx="357.78" cy="255.7" r="1.35" fill="none" stroke="#8a8a8a" stroke-width="0.55"/>
<circle cx="357.78" cy="258.1" r="1.35" fill="none" stroke="#8a8a8a" stroke-width="0.55"/>
<path d="M357.78 231.1V252.6M355.58 231.1H359.98M355.58 252.6H359.98" fill="none" stroke="#555555" stroke-width="0.7"/>
<rect x="366.21" y="246.5" width="8.9" height="45.9" fill="#74cffa"/>
<rect x="366.21" y="302.3" width="8.9" height="11.2" fill="#74cffa"/>
<circle cx="370.66" cy="233.1" r="1.35" fill="none" stroke="#8a8a8a" stroke-width="0.55"/>
<circle cx="370.66" cy="235.5" r="1.35" fill="none" stroke="#8a8a8a" stroke-width="0.55"/>
<circle cx="370.66" cy="240" r="1.35" fill="none" stroke="#8a8a8a" stroke-width="0.55"/>
<circle cx="367.36" cy="244.6" r="1.35" fill="none" stroke="#8a8a8a" stroke-width="0.55"/>
<circle cx="373.66" cy="244.6" r="1.35" fill="none" stroke="#8a8a8a" stroke-width="0.55"/>
<circle cx="370.66" cy="246.5" r="1.35" fill="none" stroke="#8a8a8a" stroke-width="0.55"/>
<circle cx="373.66" cy="254.6" r="1.35" fill="none" stroke="#8a8a8a" stroke-width="0.55"/>
<circle cx="370.66" cy="256.5" r="1.35" fill="none" stroke="#8a8a8a" stroke-width="0.55"/>
<circle cx="370.66" cy="266.4" r="1.35" fill="none" stroke="#8a8a8a" stroke-width="0.55"/>
<path d="M370.66 237.7V256.1M368.46 237.7H372.86M368.46 256.1H372.86" fill="none" stroke="#555555" stroke-width="0.7"/>
<rect x="379.09" y="246.8" width="8.9" height="45.6" fill="#74cffa"/>
<rect x="379.09" y="302.3" width="8.9" height="11.2" fill="#74cffa"/>
<circle cx="383.54" cy="220.9" r="1.35" fill="none" stroke="#8a8a8a" stroke-width="0.55"/>
<circle cx="383.54" cy="227" r="1.35" fill="none" stroke="#8a8a8a" stroke-width="0.55"/>
<circle cx="383.54" cy="237.9" r="1.35" fill="none" stroke="#8a8a8a" stroke-width="0.55"/>
<circle cx="383.54" cy="242.6" r="1.35" fill="none" stroke="#8a8a8a" stroke-width="0.55"/>
<circle cx="380.74" cy="250.4" r="1.35" fill="none" stroke="#8a8a8a" stroke-width="0.55"/>
<circle cx="386.34" cy="250.4" r="1.35" fill="none" stroke="#8a8a8a" stroke-width="0.55"/>
<circle cx="383.54" cy="253.5" r="1.35" fill="none" stroke="#8a8a8a" stroke-width="0.55"/>
<circle cx="380.24" cy="261" r="1.35" fill="none" stroke="#8a8a8a" stroke-width="0.55"/>
<circle cx="383.54" cy="261" r="1.35" fill="none" stroke="#8a8a8a" stroke-width="0.55"/>
<circle cx="386.64" cy="261" r="1.35" fill="none" stroke="#8a8a8a" stroke-width="0.55"/>
<path d="M383.54 233.4V260.1M381.34 233.4H385.74M381.34 260.1H385.74" fill="none" stroke="#555555" stroke-width="0.7"/>
<rect x="400.55" y="242.8" width="8.9" height="49.6" fill="#ff7474"/>
<rect x="400.55" y="302.3" width="8.9" height="11.2" fill="#ff7474"/>
<circle cx="405" cy="220.5" r="1.35" fill="none" stroke="#8a8a8a" stroke-width="0.55"/>
<circle cx="401.5" cy="226.7" r="1.35" fill="none" stroke="#8a8a8a" stroke-width="0.55"/>
<circle cx="408" cy="228.5" r="1.35" fill="none" stroke="#8a8a8a" stroke-width="0.55"/>
<circle cx="405" cy="233.3" r="1.35" fill="none" stroke="#8a8a8a" stroke-width="0.55"/>
<circle cx="401.1" cy="239.5" r="1.35" fill="none" stroke="#8a8a8a" stroke-width="0.55"/>
<circle cx="408.3" cy="238.6" r="1.35" fill="none" stroke="#8a8a8a" stroke-width="0.55"/>
<circle cx="408.3" cy="241.5" r="1.35" fill="none" stroke="#8a8a8a" stroke-width="0.55"/>
<circle cx="405" cy="247.8" r="1.35" fill="none" stroke="#8a8a8a" stroke-width="0.55"/>
<circle cx="405" cy="251" r="1.35" fill="none" stroke="#8a8a8a" stroke-width="0.55"/>
<circle cx="405" cy="254" r="1.35" fill="none" stroke="#8a8a8a" stroke-width="0.55"/>
<circle cx="405" cy="263.3" r="1.35" fill="none" stroke="#8a8a8a" stroke-width="0.55"/>
<circle cx="405" cy="271" r="1.35" fill="none" stroke="#8a8a8a" stroke-width="0.55"/>
<path d="M405 228V258.3M402.8 228H407.2M402.8 258.3H407.2" fill="none" stroke="#555555" stroke-width="0.7"/>
<rect x="413.43" y="245.9" width="8.9" height="46.5" fill="#ff7474"/>
<rect x="413.43" y="302.3" width="8.9" height="11.2" fill="#ff7474"/>
<circle cx="417.88" cy="219.8" r="1.35" fill="none" stroke="#8a8a8a" stroke-width="0.55"/>
<circle cx="417.88" cy="231" r="1.35" fill="none" stroke="#8a8a8a" stroke-width="0.55"/>
<circle cx="417.88" cy="236.3" r="1.35" fill="none" stroke="#8a8a8a" stroke-width="0.55"/>
<circle cx="417.88" cy="239.5" r="1.35" fill="none" stroke="#8a8a8a" stroke-width="0.55"/>
<circle cx="414.68" cy="245" r="1.35" fill="none" stroke="#8a8a8a" stroke-width="0.55"/>
<circle cx="417.88" cy="245" r="1.35" fill="none" stroke="#8a8a8a" stroke-width="0.55"/>
<circle cx="420.98" cy="245" r="1.35" fill="none" stroke="#8a8a8a" stroke-width="0.55"/>
<circle cx="417.88" cy="248" r="1.35" fill="none" stroke="#8a8a8a" stroke-width="0.55"/>
<circle cx="417.88" cy="251.5" r="1.35" fill="none" stroke="#8a8a8a" stroke-width="0.55"/>
<circle cx="417.88" cy="255" r="1.35" fill="none" stroke="#8a8a8a" stroke-width="0.55"/>
<circle cx="417.88" cy="264.4" r="1.35" fill="none" stroke="#8a8a8a" stroke-width="0.55"/>
<circle cx="417.88" cy="269.4" r="1.35" fill="none" stroke="#8a8a8a" stroke-width="0.55"/>
<path d="M417.88 232V260.3M415.68 232H420.08M415.68 260.3H420.08" fill="none" stroke="#555555" stroke-width="0.7"/>
<rect x="426.31" y="243.7" width="8.9" height="48.7" fill="#ff7474"/>
<rect x="426.31" y="302.3" width="8.9" height="11.2" fill="#ff7474"/>
<circle cx="430.76" cy="213.8" r="1.35" fill="none" stroke="#8a8a8a" stroke-width="0.55"/>
<circle cx="427.46" cy="228.5" r="1.35" fill="none" stroke="#8a8a8a" stroke-width="0.55"/>
<circle cx="430.76" cy="228.5" r="1.35" fill="none" stroke="#8a8a8a" stroke-width="0.55"/>
<circle cx="434.16" cy="229" r="1.35" fill="none" stroke="#8a8a8a" stroke-width="0.55"/>
<circle cx="430.76" cy="234.2" r="1.35" fill="none" stroke="#8a8a8a" stroke-width="0.55"/>
<circle cx="430.76" cy="236.5" r="1.35" fill="none" stroke="#8a8a8a" stroke-width="0.55"/>
<circle cx="430.76" cy="238.4" r="1.35" fill="none" stroke="#8a8a8a" stroke-width="0.55"/>
<circle cx="430.76" cy="247.5" r="1.35" fill="none" stroke="#8a8a8a" stroke-width="0.55"/>
<circle cx="430.76" cy="253.7" r="1.35" fill="none" stroke="#8a8a8a" stroke-width="0.55"/>
<circle cx="430.76" cy="257" r="1.35" fill="none" stroke="#8a8a8a" stroke-width="0.55"/>
<circle cx="433.66" cy="262" r="1.35" fill="none" stroke="#8a8a8a" stroke-width="0.55"/>
<circle cx="430.76" cy="263.3" r="1.35" fill="none" stroke="#8a8a8a" stroke-width="0.55"/>
<circle cx="430.76" cy="267.1" r="1.35" fill="none" stroke="#8a8a8a" stroke-width="0.55"/>
<path d="M430.76 226.3V260.5M428.56 226.3H432.96M428.56 260.5H432.96" fill="none" stroke="#555555" stroke-width="0.7"/>
<rect x="439.19" y="245" width="8.9" height="47.4" fill="#ff7474"/>
<rect x="439.19" y="302.3" width="8.9" height="11.2" fill="#ff7474"/>
<circle cx="440.34" cy="225.4" r="1.35" fill="none" stroke="#8a8a8a" stroke-width="0.55"/>
<circle cx="444.44" cy="227.5" r="1.35" fill="none" stroke="#8a8a8a" stroke-width="0.55"/>
<circle cx="443.64" cy="229.5" r="1.35" fill="none" stroke="#8a8a8a" stroke-width="0.55"/>
<circle cx="443.64" cy="233.5" r="1.35" fill="none" stroke="#8a8a8a" stroke-width="0.55"/>
<circle cx="443.64" cy="241.2" r="1.35" fill="none" stroke="#8a8a8a" stroke-width="0.55"/>
<circle cx="443.64" cy="244" r="1.35" fill="none" stroke="#8a8a8a" stroke-width="0.55"/>
<circle cx="443.64" cy="248" r="1.35" fill="none" stroke="#8a8a8a" stroke-width="0.55"/>
<circle cx="443.64" cy="253" r="1.35" fill="none" stroke="#8a8a8a" stroke-width="0.55"/>
<circle cx="440.64" cy="254.4" r="1.35" fill="none" stroke="#8a8a8a" stroke-width="0.55"/>
<circle cx="446.44" cy="254.4" r="1.35" fill="none" stroke="#8a8a8a" stroke-width="0.55"/>
<circle cx="443.64" cy="257.5" r="1.35" fill="none" stroke="#8a8a8a" stroke-width="0.55"/>
<circle cx="443.64" cy="264.4" r="1.35" fill="none" stroke="#8a8a8a" stroke-width="0.55"/>
<path d="M443.64 231.4V259.2M441.44 231.4H445.84M441.44 259.2H445.84" fill="none" stroke="#555555" stroke-width="0.7"/>
<line x1="276.5" y1="195.4" x2="276.5" y2="292.4" stroke="#8c8c8c" stroke-width="0.9" />
<line x1="276.5" y1="302.3" x2="276.5" y2="313.5" stroke="#8c8c8c" stroke-width="0.9" />
<line x1="276.5" y1="313.5" x2="451.8" y2="313.5" stroke="#8c8c8c" stroke-width="0.9" />
<line x1="270.4" y1="195.4" x2="276.5" y2="195.4" stroke="#9a9a9a" stroke-width="0.9" />
<text x="265.8" y="198.15" font-size="8.4" text-anchor="end" textLength="12.7" lengthAdjust="spacingAndGlyphs" fill="#1e1e1e">160</text>
<line x1="270.4" y1="219.65" x2="276.5" y2="219.65" stroke="#9a9a9a" stroke-width="0.9" />
<text x="265.8" y="222.4" font-size="8.4" text-anchor="end" textLength="12.7" lengthAdjust="spacingAndGlyphs" fill="#1e1e1e">140</text>
<line x1="270.4" y1="243.9" x2="276.5" y2="243.9" stroke="#9a9a9a" stroke-width="0.9" />
<text x="265.8" y="246.65" font-size="8.4" text-anchor="end" textLength="12.7" lengthAdjust="spacingAndGlyphs" fill="#1e1e1e">120</text>
<line x1="270.4" y1="268.15" x2="276.5" y2="268.15" stroke="#9a9a9a" stroke-width="0.9" />
<text x="265.8" y="270.9" font-size="8.4" text-anchor="end" textLength="12.7" lengthAdjust="spacingAndGlyphs" fill="#1e1e1e">100</text>
<line x1="272.7" y1="292.4" x2="278.8" y2="292.4" stroke="#9a9a9a" stroke-width="0.9" />
<text x="265.8" y="295.15" font-size="8.4" text-anchor="end" textLength="9.8" lengthAdjust="spacingAndGlyphs" fill="#1e1e1e">80</text>
<line x1="272.7" y1="302.3" x2="278.8" y2="302.3" stroke="#9a9a9a" stroke-width="0.9" />
<text x="265.8" y="305.05" font-size="8.4" text-anchor="end" textLength="7.65" lengthAdjust="spacingAndGlyphs" fill="#1e1e1e">10</text>
<line x1="271.2" y1="312.8" x2="276.5" y2="312.8" stroke="#9a9a9a" stroke-width="0.9" />
<text x="265.8" y="315.55" font-size="8.4" text-anchor="end" textLength="4.75" lengthAdjust="spacingAndGlyphs" fill="#1e1e1e">0</text>
<line x1="284.8" y1="313.5" x2="284.8" y2="317.8" stroke="#858585" stroke-width="0.85" />
<text x="284.8" y="327.4" font-size="8.4" text-anchor="middle" textLength="4.75" lengthAdjust="spacingAndGlyphs" fill="#1e1e1e">0</text>
<line x1="297.68" y1="313.5" x2="297.68" y2="317.8" stroke="#858585" stroke-width="0.85" />
<text x="297.68" y="327.4" font-size="8.4" text-anchor="middle" textLength="4.75" lengthAdjust="spacingAndGlyphs" fill="#1e1e1e">2</text>
<line x1="310.56" y1="313.5" x2="310.56" y2="317.8" stroke="#858585" stroke-width="0.85" />
<text x="310.56" y="327.4" font-size="8.4" text-anchor="middle" textLength="4.75" lengthAdjust="spacingAndGlyphs" fill="#1e1e1e">4</text>
<line x1="323.44" y1="313.5" x2="323.44" y2="317.8" stroke="#858585" stroke-width="0.85" />
<text x="323.44" y="327.4" font-size="8.4" text-anchor="middle" textLength="4.75" lengthAdjust="spacingAndGlyphs" fill="#1e1e1e">6</text>
<line x1="344.9" y1="313.5" x2="344.9" y2="317.8" stroke="#858585" stroke-width="0.85" />
<text x="344.9" y="327.4" font-size="8.4" text-anchor="middle" textLength="4.75" lengthAdjust="spacingAndGlyphs" fill="#1e1e1e">0</text>
<line x1="357.78" y1="313.5" x2="357.78" y2="317.8" stroke="#858585" stroke-width="0.85" />
<text x="357.78" y="327.4" font-size="8.4" text-anchor="middle" textLength="4.75" lengthAdjust="spacingAndGlyphs" fill="#1e1e1e">2</text>
<line x1="370.66" y1="313.5" x2="370.66" y2="317.8" stroke="#858585" stroke-width="0.85" />
<text x="370.66" y="327.4" font-size="8.4" text-anchor="middle" textLength="4.75" lengthAdjust="spacingAndGlyphs" fill="#1e1e1e">4</text>
<line x1="383.54" y1="313.5" x2="383.54" y2="317.8" stroke="#858585" stroke-width="0.85" />
<text x="383.54" y="327.4" font-size="8.4" text-anchor="middle" textLength="4.75" lengthAdjust="spacingAndGlyphs" fill="#1e1e1e">6</text>
<line x1="405" y1="313.5" x2="405" y2="317.8" stroke="#858585" stroke-width="0.85" />
<text x="405" y="327.4" font-size="8.4" text-anchor="middle" textLength="4.75" lengthAdjust="spacingAndGlyphs" fill="#1e1e1e">0</text>
<line x1="417.88" y1="313.5" x2="417.88" y2="317.8" stroke="#858585" stroke-width="0.85" />
<text x="417.88" y="327.4" font-size="8.4" text-anchor="middle" textLength="4.75" lengthAdjust="spacingAndGlyphs" fill="#1e1e1e">2</text>
<line x1="430.76" y1="313.5" x2="430.76" y2="317.8" stroke="#858585" stroke-width="0.85" />
<text x="430.76" y="327.4" font-size="8.4" text-anchor="middle" textLength="4.75" lengthAdjust="spacingAndGlyphs" fill="#1e1e1e">4</text>
<line x1="443.64" y1="313.5" x2="443.64" y2="317.8" stroke="#858585" stroke-width="0.85" />
<text x="443.64" y="327.4" font-size="8.4" text-anchor="middle" textLength="4.75" lengthAdjust="spacingAndGlyphs" fill="#1e1e1e">6</text>
<line x1="502" y1="223.1" x2="685" y2="223.1" stroke="#767676" stroke-width="1.1" stroke-dasharray="4 2"/>
<line x1="502" y1="253.1" x2="685" y2="253.1" stroke="#767676" stroke-width="1.1" stroke-dasharray="4 2"/>
<path d="M512.55 292.21V245.3H520.85V292.21M512.55 302.3V313.5M520.85 302.3V313.5" fill="none" stroke="#8f8f8f" stroke-width="0.8"/>
<circle cx="516.7" cy="226.7" r="1.35" fill="none" stroke="#8a8a8a" stroke-width="0.55"/>
<circle cx="516.7" cy="229" r="1.35" fill="none" stroke="#8a8a8a" stroke-width="0.55"/>
<circle cx="520.1" cy="232.6" r="1.35" fill="none" stroke="#8a8a8a" stroke-width="0.55"/>
<circle cx="513.4" cy="234.1" r="1.35" fill="none" stroke="#8a8a8a" stroke-width="0.55"/>
<circle cx="516.7" cy="236.7" r="1.35" fill="none" stroke="#8a8a8a" stroke-width="0.55"/>
<circle cx="513.2" cy="246.6" r="1.35" fill="none" stroke="#8a8a8a" stroke-width="0.55"/>
<circle cx="520.1" cy="245.5" r="1.35" fill="none" stroke="#8a8a8a" stroke-width="0.55"/>
<circle cx="513.6" cy="248.4" r="1.35" fill="none" stroke="#8a8a8a" stroke-width="0.55"/>
<circle cx="516.7" cy="252.5" r="1.35" fill="none" stroke="#8a8a8a" stroke-width="0.55"/>
<circle cx="516.7" cy="255" r="1.35" fill="none" stroke="#8a8a8a" stroke-width="0.55"/>
<circle cx="516.7" cy="257.5" r="1.35" fill="none" stroke="#8a8a8a" stroke-width="0.55"/>
<circle cx="516.7" cy="261.9" r="1.35" fill="none" stroke="#8a8a8a" stroke-width="0.55"/>
<circle cx="516.7" cy="271.2" r="1.35" fill="none" stroke="#8a8a8a" stroke-width="0.55"/>
<path d="M516.7 231.3V259.5M514.5 231.3H518.9M514.5 259.5H518.9" fill="none" stroke="#555555" stroke-width="0.7"/>
<path d="M525.43 292.21V244.9H533.73V292.21M525.43 302.3V313.5M533.73 302.3V313.5" fill="none" stroke="#8f8f8f" stroke-width="0.8"/>
<circle cx="529.58" cy="221.7" r="1.35" fill="none" stroke="#8a8a8a" stroke-width="0.55"/>
<circle cx="529.58" cy="228.5" r="1.35" fill="none" stroke="#8a8a8a" stroke-width="0.55"/>
<circle cx="529.58" cy="234" r="1.35" fill="none" stroke="#8a8a8a" stroke-width="0.55"/>
<circle cx="529.58" cy="235.9" r="1.35" fill="none" stroke="#8a8a8a" stroke-width="0.55"/>
<circle cx="526.38" cy="245.5" r="1.35" fill="none" stroke="#8a8a8a" stroke-width="0.55"/>
<circle cx="532.38" cy="245.5" r="1.35" fill="none" stroke="#8a8a8a" stroke-width="0.55"/>
<circle cx="529.58" cy="248.5" r="1.35" fill="none" stroke="#8a8a8a" stroke-width="0.55"/>
<circle cx="529.58" cy="251.5" r="1.35" fill="none" stroke="#8a8a8a" stroke-width="0.55"/>
<circle cx="526.28" cy="253.4" r="1.35" fill="none" stroke="#8a8a8a" stroke-width="0.55"/>
<circle cx="529.58" cy="253.5" r="1.35" fill="none" stroke="#8a8a8a" stroke-width="0.55"/>
<circle cx="532.38" cy="253.4" r="1.35" fill="none" stroke="#8a8a8a" stroke-width="0.55"/>
<circle cx="529.58" cy="257.5" r="1.35" fill="none" stroke="#8a8a8a" stroke-width="0.55"/>
<circle cx="529.58" cy="261.9" r="1.35" fill="none" stroke="#8a8a8a" stroke-width="0.55"/>
<path d="M529.58 232V256.2M527.38 232H531.78M527.38 256.2H531.78" fill="none" stroke="#555555" stroke-width="0.7"/>
<path d="M538.31 292.21V250.1H546.61V292.21M538.31 302.3V313.5M546.61 302.3V313.5" fill="none" stroke="#8f8f8f" stroke-width="0.8"/>
<circle cx="542.46" cy="232.7" r="1.35" fill="none" stroke="#8a8a8a" stroke-width="0.55"/>
<circle cx="542.46" cy="236.8" r="1.35" fill="none" stroke="#8a8a8a" stroke-width="0.55"/>
<circle cx="542.46" cy="241" r="1.35" fill="none" stroke="#8a8a8a" stroke-width="0.55"/>
<circle cx="539.86" cy="242.5" r="1.35" fill="none" stroke="#8a8a8a" stroke-width="0.55"/>
<circle cx="544.86" cy="242.5" r="1.35" fill="none" stroke="#8a8a8a" stroke-width="0.55"/>
<circle cx="542.46" cy="247" r="1.35" fill="none" stroke="#8a8a8a" stroke-width="0.55"/>
<circle cx="542.46" cy="248" r="1.35" fill="none" stroke="#8a8a8a" stroke-width="0.55"/>
<circle cx="542.46" cy="253.4" r="1.35" fill="none" stroke="#8a8a8a" stroke-width="0.55"/>
<circle cx="539.86" cy="257.3" r="1.35" fill="none" stroke="#8a8a8a" stroke-width="0.55"/>
<circle cx="544.86" cy="257.3" r="1.35" fill="none" stroke="#8a8a8a" stroke-width="0.55"/>
<circle cx="542.46" cy="268.7" r="1.35" fill="none" stroke="#8a8a8a" stroke-width="0.55"/>
<path d="M542.46 239.4V260.1M540.26 239.4H544.66M540.26 260.1H544.66" fill="none" stroke="#555555" stroke-width="0.7"/>
<path d="M551.19 292.21V245.4H559.49V292.21M551.19 302.3V313.5M559.49 302.3V313.5" fill="none" stroke="#8f8f8f" stroke-width="0.8"/>
<circle cx="555.34" cy="230" r="1.35" fill="none" stroke="#8a8a8a" stroke-width="0.55"/>
<circle cx="552.04" cy="234.2" r="1.35" fill="none" stroke="#8a8a8a" stroke-width="0.55"/>
<circle cx="552.14" cy="241" r="1.35" fill="none" stroke="#8a8a8a" stroke-width="0.55"/>
<circle cx="555.34" cy="240" r="1.35" fill="none" stroke="#8a8a8a" stroke-width="0.55"/>
<circle cx="558.64" cy="242.5" r="1.35" fill="none" stroke="#8a8a8a" stroke-width="0.55"/>
<circle cx="555.34" cy="243" r="1.35" fill="none" stroke="#8a8a8a" stroke-width="0.55"/>
<circle cx="552.94" cy="253.1" r="1.35" fill="none" stroke="#8a8a8a" stroke-width="0.55"/>
<circle cx="555.34" cy="254" r="1.35" fill="none" stroke="#8a8a8a" stroke-width="0.55"/>
<circle cx="557.74" cy="253.1" r="1.35" fill="none" stroke="#8a8a8a" stroke-width="0.55"/>
<circle cx="555.34" cy="256.5" r="1.35" fill="none" stroke="#8a8a8a" stroke-width="0.55"/>
<circle cx="555.34" cy="260.4" r="1.35" fill="none" stroke="#8a8a8a" stroke-width="0.55"/>
<path d="M555.34 235.5V255.5M553.14 235.5H557.54M553.14 255.5H557.54" fill="none" stroke="#555555" stroke-width="0.7"/>
<rect x="572.85" y="246" width="8.9" height="46.21" fill="#74cffa"/>
<rect x="572.85" y="302.3" width="8.9" height="11.2" fill="#74cffa"/>
<circle cx="577.3" cy="226.2" r="1.35" fill="none" stroke="#8a8a8a" stroke-width="0.55"/>
<circle cx="577.3" cy="235" r="1.35" fill="none" stroke="#8a8a8a" stroke-width="0.55"/>
<circle cx="577.3" cy="237" r="1.35" fill="none" stroke="#8a8a8a" stroke-width="0.55"/>
<circle cx="574.2" cy="241.3" r="1.35" fill="none" stroke="#8a8a8a" stroke-width="0.55"/>
<circle cx="580.6" cy="241.3" r="1.35" fill="none" stroke="#8a8a8a" stroke-width="0.55"/>
<circle cx="577.3" cy="244.5" r="1.35" fill="none" stroke="#8a8a8a" stroke-width="0.55"/>
<circle cx="577.3" cy="250.7" r="1.35" fill="none" stroke="#8a8a8a" stroke-width="0.55"/>
<circle cx="577.3" cy="252.5" r="1.35" fill="none" stroke="#8a8a8a" stroke-width="0.55"/>
<circle cx="574.1" cy="256.5" r="1.35" fill="none" stroke="#8a8a8a" stroke-width="0.55"/>
<circle cx="577.3" cy="256.5" r="1.35" fill="none" stroke="#8a8a8a" stroke-width="0.55"/>
<circle cx="580.5" cy="256.5" r="1.35" fill="none" stroke="#8a8a8a" stroke-width="0.55"/>
<circle cx="577.3" cy="261.6" r="1.35" fill="none" stroke="#8a8a8a" stroke-width="0.55"/>
<path d="M577.3 235.2V256.5M575.1 235.2H579.5M575.1 256.5H579.5" fill="none" stroke="#555555" stroke-width="0.7"/>
<rect x="585.73" y="237.9" width="8.9" height="54.31" fill="#74cffa"/>
<rect x="585.73" y="302.3" width="8.9" height="11.2" fill="#74cffa"/>
<circle cx="590.18" cy="207.9" r="1.35" fill="none" stroke="#8a8a8a" stroke-width="0.55"/>
<circle cx="590.18" cy="220.5" r="1.35" fill="none" stroke="#8a8a8a" stroke-width="0.55"/>
<circle cx="586.48" cy="227.1" r="1.35" fill="none" stroke="#8a8a8a" stroke-width="0.55"/>
<circle cx="590.18" cy="227.1" r="1.35" fill="none" stroke="#8a8a8a" stroke-width="0.55"/>
<circle cx="593.48" cy="227.1" r="1.35" fill="none" stroke="#8a8a8a" stroke-width="0.55"/>
<circle cx="590.18" cy="241.4" r="1.35" fill="none" stroke="#8a8a8a" stroke-width="0.55"/>
<circle cx="590.18" cy="244.5" r="1.35" fill="none" stroke="#8a8a8a" stroke-width="0.55"/>
<circle cx="590.18" cy="247.4" r="1.35" fill="none" stroke="#8a8a8a" stroke-width="0.55"/>
<circle cx="590.18" cy="250.5" r="1.35" fill="none" stroke="#8a8a8a" stroke-width="0.55"/>
<circle cx="590.18" cy="257.7" r="1.35" fill="none" stroke="#8a8a8a" stroke-width="0.55"/>
<circle cx="590.18" cy="268.4" r="1.35" fill="none" stroke="#8a8a8a" stroke-width="0.55"/>
<path d="M590.18 219.7V255.3M587.98 219.7H592.38M587.98 255.3H592.38" fill="none" stroke="#555555" stroke-width="0.7"/>
<rect x="598.61" y="247.2" width="8.9" height="45.01" fill="#74cffa"/>
<rect x="598.61" y="302.3" width="8.9" height="11.2" fill="#74cffa"/>
<circle cx="603.06" cy="224.5" r="1.35" fill="none" stroke="#8a8a8a" stroke-width="0.55"/>
<circle cx="600.06" cy="232.6" r="1.35" fill="none" stroke="#8a8a8a" stroke-width="0.55"/>
<circle cx="606.56" cy="231.5" r="1.35" fill="none" stroke="#8a8a8a" stroke-width="0.55"/>
<circle cx="603.06" cy="236.5" r="1.35" fill="none" stroke="#8a8a8a" stroke-width="0.55"/>
<circle cx="603.06" cy="245.8" r="1.35" fill="none" stroke="#8a8a8a" stroke-width="0.55"/>
<circle cx="600.46" cy="251.6" r="1.35" fill="none" stroke="#8a8a8a" stroke-width="0.55"/>
<circle cx="606.56" cy="251.6" r="1.35" fill="none" stroke="#8a8a8a" stroke-width="0.55"/>
<circle cx="603.06" cy="258.4" r="1.35" fill="none" stroke="#8a8a8a" stroke-width="0.55"/>
<circle cx="599.86" cy="261.5" r="1.35" fill="none" stroke="#8a8a8a" stroke-width="0.55"/>
<circle cx="606.26" cy="261.5" r="1.35" fill="none" stroke="#8a8a8a" stroke-width="0.55"/>
<circle cx="603.06" cy="263.8" r="1.35" fill="none" stroke="#8a8a8a" stroke-width="0.55"/>
<path d="M603.06 233.9V260.9M600.86 233.9H605.26M600.86 260.9H605.26" fill="none" stroke="#555555" stroke-width="0.7"/>
<rect x="611.49" y="246.4" width="8.9" height="45.81" fill="#74cffa"/>
<rect x="611.49" y="302.3" width="8.9" height="11.2" fill="#74cffa"/>
<circle cx="615.94" cy="230.6" r="1.35" fill="none" stroke="#8a8a8a" stroke-width="0.55"/>
<circle cx="615.94" cy="233.5" r="1.35" fill="none" stroke="#8a8a8a" stroke-width="0.55"/>
<circle cx="615.94" cy="236.3" r="1.35" fill="none" stroke="#8a8a8a" stroke-width="0.55"/>
<circle cx="615.94" cy="239" r="1.35" fill="none" stroke="#8a8a8a" stroke-width="0.55"/>
<circle cx="612.74" cy="254.5" r="1.35" fill="none" stroke="#8a8a8a" stroke-width="0.55"/>
<circle cx="615.94" cy="254.5" r="1.35" fill="none" stroke="#8a8a8a" stroke-width="0.55"/>
<circle cx="619.04" cy="254.5" r="1.35" fill="none" stroke="#8a8a8a" stroke-width="0.55"/>
<circle cx="615.94" cy="277.2" r="1.35" fill="none" stroke="#8a8a8a" stroke-width="0.55"/>
<path d="M615.94 232.1V260.3M613.74 232.1H618.14M613.74 260.3H618.14" fill="none" stroke="#555555" stroke-width="0.7"/>
<rect x="633.15" y="243.7" width="8.9" height="48.51" fill="#ff7474"/>
<rect x="633.15" y="302.3" width="8.9" height="11.2" fill="#ff7474"/>
<circle cx="637.6" cy="223.4" r="1.35" fill="none" stroke="#8a8a8a" stroke-width="0.55"/>
<circle cx="637.6" cy="232" r="1.35" fill="none" stroke="#8a8a8a" stroke-width="0.55"/>
<circle cx="634.3" cy="236.9" r="1.35" fill="none" stroke="#8a8a8a" stroke-width="0.55"/>
<circle cx="640.9" cy="235.4" r="1.35" fill="none" stroke="#8a8a8a" stroke-width="0.55"/>
<circle cx="640.9" cy="238.5" r="1.35" fill="none" stroke="#8a8a8a" stroke-width="0.55"/>
<circle cx="634.3" cy="245.4" r="1.35" fill="none" stroke="#8a8a8a" stroke-width="0.55"/>
<circle cx="634.3" cy="248.3" r="1.35" fill="none" stroke="#8a8a8a" stroke-width="0.55"/>
<circle cx="640.9" cy="246.5" r="1.35" fill="none" stroke="#8a8a8a" stroke-width="0.55"/>
<circle cx="640.9" cy="249.5" r="1.35" fill="none" stroke="#8a8a8a" stroke-width="0.55"/>
<circle cx="637.6" cy="252" r="1.35" fill="none" stroke="#8a8a8a" stroke-width="0.55"/>
<circle cx="637.6" cy="255.7" r="1.35" fill="none" stroke="#8a8a8a" stroke-width="0.55"/>
<circle cx="637.6" cy="258.7" r="1.35" fill="none" stroke="#8a8a8a" stroke-width="0.55"/>
<path d="M637.6 232.6V253.8M635.4 232.6H639.8M635.4 253.8H639.8" fill="none" stroke="#555555" stroke-width="0.7"/>
<rect x="646.03" y="244.2" width="8.9" height="48.01" fill="#ff7474"/>
<rect x="646.03" y="302.3" width="8.9" height="11.2" fill="#ff7474"/>
<circle cx="650.48" cy="236.5" r="1.35" fill="none" stroke="#8a8a8a" stroke-width="0.55"/>
<circle cx="647.38" cy="239.4" r="1.35" fill="none" stroke="#8a8a8a" stroke-width="0.55"/>
<circle cx="650.48" cy="239.4" r="1.35" fill="none" stroke="#8a8a8a" stroke-width="0.55"/>
<circle cx="653.78" cy="239.4" r="1.35" fill="none" stroke="#8a8a8a" stroke-width="0.55"/>
<circle cx="647.38" cy="246.1" r="1.35" fill="none" stroke="#8a8a8a" stroke-width="0.55"/>
<circle cx="650.48" cy="246" r="1.35" fill="none" stroke="#8a8a8a" stroke-width="0.55"/>
<circle cx="653.78" cy="246.5" r="1.35" fill="none" stroke="#8a8a8a" stroke-width="0.55"/>
<circle cx="650.48" cy="248.5" r="1.35" fill="none" stroke="#8a8a8a" stroke-width="0.55"/>
<circle cx="653.78" cy="248.7" r="1.35" fill="none" stroke="#8a8a8a" stroke-width="0.55"/>
<circle cx="649.08" cy="257.4" r="1.35" fill="none" stroke="#8a8a8a" stroke-width="0.55"/>
<circle cx="651.88" cy="255.7" r="1.35" fill="none" stroke="#8a8a8a" stroke-width="0.55"/>
<path d="M650.48 236.9V251.2M648.28 236.9H652.68M648.28 251.2H652.68" fill="none" stroke="#555555" stroke-width="0.7"/>
<rect x="658.91" y="243.1" width="8.9" height="49.11" fill="#ff7474"/>
<rect x="658.91" y="302.3" width="8.9" height="11.2" fill="#ff7474"/>
<circle cx="660.16" cy="227.2" r="1.35" fill="none" stroke="#8a8a8a" stroke-width="0.55"/>
<circle cx="666.16" cy="226" r="1.35" fill="none" stroke="#8a8a8a" stroke-width="0.55"/>
<circle cx="663.36" cy="231.5" r="1.35" fill="none" stroke="#8a8a8a" stroke-width="0.55"/>
<circle cx="660.16" cy="239.5" r="1.35" fill="none" stroke="#8a8a8a" stroke-width="0.55"/>
<circle cx="666.16" cy="238.5" r="1.35" fill="none" stroke="#8a8a8a" stroke-width="0.55"/>
<circle cx="660.16" cy="245.4" r="1.35" fill="none" stroke="#8a8a8a" stroke-width="0.55"/>
<circle cx="660.16" cy="249.4" r="1.35" fill="none" stroke="#8a8a8a" stroke-width="0.55"/>
<circle cx="660.16" cy="251.8" r="1.35" fill="none" stroke="#8a8a8a" stroke-width="0.55"/>
<circle cx="666.16" cy="246.5" r="1.35" fill="none" stroke="#8a8a8a" stroke-width="0.55"/>
<circle cx="666.16" cy="250.5" r="1.35" fill="none" stroke="#8a8a8a" stroke-width="0.55"/>
<circle cx="666.16" cy="253.5" r="1.35" fill="none" stroke="#8a8a8a" stroke-width="0.55"/>
<circle cx="663.36" cy="257.7" r="1.35" fill="none" stroke="#8a8a8a" stroke-width="0.55"/>
<path d="M663.36 232.4V253.5M661.16 232.4H665.56M661.16 253.5H665.56" fill="none" stroke="#555555" stroke-width="0.7"/>
<rect x="671.79" y="245.9" width="8.9" height="46.31" fill="#ff7474"/>
<rect x="671.79" y="302.3" width="8.9" height="11.2" fill="#ff7474"/>
<circle cx="676.24" cy="227.2" r="1.35" fill="none" stroke="#8a8a8a" stroke-width="0.55"/>
<circle cx="676.24" cy="234" r="1.35" fill="none" stroke="#8a8a8a" stroke-width="0.55"/>
<circle cx="673.14" cy="239.5" r="1.35" fill="none" stroke="#8a8a8a" stroke-width="0.55"/>
<circle cx="679.34" cy="239.5" r="1.35" fill="none" stroke="#8a8a8a" stroke-width="0.55"/>
<circle cx="676.24" cy="244.5" r="1.35" fill="none" stroke="#8a8a8a" stroke-width="0.55"/>
<circle cx="676.24" cy="249.4" r="1.35" fill="none" stroke="#8a8a8a" stroke-width="0.55"/>
<circle cx="673.14" cy="252.2" r="1.35" fill="none" stroke="#8a8a8a" stroke-width="0.55"/>
<circle cx="673.14" cy="255" r="1.35" fill="none" stroke="#8a8a8a" stroke-width="0.55"/>
<circle cx="673.14" cy="257.9" r="1.35" fill="none" stroke="#8a8a8a" stroke-width="0.55"/>
<circle cx="679.34" cy="253.5" r="1.35" fill="none" stroke="#8a8a8a" stroke-width="0.55"/>
<circle cx="679.34" cy="256.6" r="1.35" fill="none" stroke="#8a8a8a" stroke-width="0.55"/>
<path d="M676.24 235.4V255.5M674.04 235.4H678.44M674.04 255.5H678.44" fill="none" stroke="#555555" stroke-width="0.7"/>
<line x1="508.5" y1="195.4" x2="508.5" y2="292.21" stroke="#8c8c8c" stroke-width="0.9" />
<line x1="508.5" y1="302.3" x2="508.5" y2="313.5" stroke="#8c8c8c" stroke-width="0.9" />
<line x1="508.5" y1="313.5" x2="683.7" y2="313.5" stroke="#8c8c8c" stroke-width="0.9" />
<line x1="502.4" y1="195.4" x2="508.5" y2="195.4" stroke="#9a9a9a" stroke-width="0.9" />
<text x="498" y="198.15" font-size="8.4" text-anchor="end" textLength="10.55" lengthAdjust="spacingAndGlyphs" fill="#1e1e1e">110</text>
<line x1="502.4" y1="209.23" x2="508.5" y2="209.23" stroke="#9a9a9a" stroke-width="0.9" />
<text x="498" y="211.98" font-size="8.4" text-anchor="end" textLength="12.7" lengthAdjust="spacingAndGlyphs" fill="#1e1e1e">100</text>
<line x1="502.4" y1="223.06" x2="508.5" y2="223.06" stroke="#9a9a9a" stroke-width="0.9" />
<text x="498" y="225.81" font-size="8.4" text-anchor="end" textLength="9.8" lengthAdjust="spacingAndGlyphs" fill="#1e1e1e">90</text>
<line x1="502.4" y1="236.89" x2="508.5" y2="236.89" stroke="#9a9a9a" stroke-width="0.9" />
<text x="498" y="239.64" font-size="8.4" text-anchor="end" textLength="9.8" lengthAdjust="spacingAndGlyphs" fill="#1e1e1e">80</text>
<line x1="502.4" y1="250.72" x2="508.5" y2="250.72" stroke="#9a9a9a" stroke-width="0.9" />
<text x="498" y="253.47" font-size="8.4" text-anchor="end" textLength="9.8" lengthAdjust="spacingAndGlyphs" fill="#1e1e1e">70</text>
<line x1="502.4" y1="264.55" x2="508.5" y2="264.55" stroke="#9a9a9a" stroke-width="0.9" />
<text x="498" y="267.3" font-size="8.4" text-anchor="end" textLength="9.8" lengthAdjust="spacingAndGlyphs" fill="#1e1e1e">60</text>
<line x1="502.4" y1="278.38" x2="508.5" y2="278.38" stroke="#9a9a9a" stroke-width="0.9" />
<text x="498" y="281.13" font-size="8.4" text-anchor="end" textLength="9.8" lengthAdjust="spacingAndGlyphs" fill="#1e1e1e">50</text>
<line x1="504.7" y1="292.21" x2="510.8" y2="292.21" stroke="#9a9a9a" stroke-width="0.9" />
<text x="498" y="294.96" font-size="8.4" text-anchor="end" textLength="9.8" lengthAdjust="spacingAndGlyphs" fill="#1e1e1e">40</text>
<line x1="504.7" y1="302.3" x2="510.8" y2="302.3" stroke="#9a9a9a" stroke-width="0.9" />
<text x="498" y="305.05" font-size="8.4" text-anchor="end" textLength="7.65" lengthAdjust="spacingAndGlyphs" fill="#1e1e1e">10</text>
<line x1="503.2" y1="312.8" x2="508.5" y2="312.8" stroke="#9a9a9a" stroke-width="0.9" />
<text x="498" y="315.55" font-size="8.4" text-anchor="end" textLength="4.75" lengthAdjust="spacingAndGlyphs" fill="#1e1e1e">0</text>
<line x1="516.7" y1="313.5" x2="516.7" y2="317.8" stroke="#858585" stroke-width="0.85" />
<text x="516.7" y="327.4" font-size="8.4" text-anchor="middle" textLength="4.75" lengthAdjust="spacingAndGlyphs" fill="#1e1e1e">0</text>
<line x1="529.58" y1="313.5" x2="529.58" y2="317.8" stroke="#858585" stroke-width="0.85" />
<text x="529.58" y="327.4" font-size="8.4" text-anchor="middle" textLength="4.75" lengthAdjust="spacingAndGlyphs" fill="#1e1e1e">2</text>
<line x1="542.46" y1="313.5" x2="542.46" y2="317.8" stroke="#858585" stroke-width="0.85" />
<text x="542.46" y="327.4" font-size="8.4" text-anchor="middle" textLength="4.75" lengthAdjust="spacingAndGlyphs" fill="#1e1e1e">4</text>
<line x1="555.34" y1="313.5" x2="555.34" y2="317.8" stroke="#858585" stroke-width="0.85" />
<text x="555.34" y="327.4" font-size="8.4" text-anchor="middle" textLength="4.75" lengthAdjust="spacingAndGlyphs" fill="#1e1e1e">6</text>
<line x1="577.3" y1="313.5" x2="577.3" y2="317.8" stroke="#858585" stroke-width="0.85" />
<text x="577.3" y="327.4" font-size="8.4" text-anchor="middle" textLength="4.75" lengthAdjust="spacingAndGlyphs" fill="#1e1e1e">0</text>
<line x1="590.18" y1="313.5" x2="590.18" y2="317.8" stroke="#858585" stroke-width="0.85" />
<text x="590.18" y="327.4" font-size="8.4" text-anchor="middle" textLength="4.75" lengthAdjust="spacingAndGlyphs" fill="#1e1e1e">2</text>
<line x1="603.06" y1="313.5" x2="603.06" y2="317.8" stroke="#858585" stroke-width="0.85" />
<text x="603.06" y="327.4" font-size="8.4" text-anchor="middle" textLength="4.75" lengthAdjust="spacingAndGlyphs" fill="#1e1e1e">4</text>
<line x1="615.94" y1="313.5" x2="615.94" y2="317.8" stroke="#858585" stroke-width="0.85" />
<text x="615.94" y="327.4" font-size="8.4" text-anchor="middle" textLength="4.75" lengthAdjust="spacingAndGlyphs" fill="#1e1e1e">6</text>
<line x1="637.6" y1="313.5" x2="637.6" y2="317.8" stroke="#858585" stroke-width="0.85" />
<text x="637.6" y="327.4" font-size="8.4" text-anchor="middle" textLength="4.75" lengthAdjust="spacingAndGlyphs" fill="#1e1e1e">0</text>
<line x1="650.48" y1="313.5" x2="650.48" y2="317.8" stroke="#858585" stroke-width="0.85" />
<text x="650.48" y="327.4" font-size="8.4" text-anchor="middle" textLength="4.75" lengthAdjust="spacingAndGlyphs" fill="#1e1e1e">2</text>
<line x1="663.36" y1="313.5" x2="663.36" y2="317.8" stroke="#858585" stroke-width="0.85" />
<text x="663.36" y="327.4" font-size="8.4" text-anchor="middle" textLength="4.75" lengthAdjust="spacingAndGlyphs" fill="#1e1e1e">4</text>
<line x1="676.24" y1="313.5" x2="676.24" y2="317.8" stroke="#858585" stroke-width="0.85" />
<text x="676.24" y="327.4" font-size="8.4" text-anchor="middle" textLength="4.75" lengthAdjust="spacingAndGlyphs" fill="#1e1e1e">6</text>
<text x="0" y="10.8" font-size="13" font-weight="bold" style="stroke:#000;stroke-width:0.45px" fill="#000">a</text>
<text x="0.3" y="188.9" font-size="13" font-weight="bold" style="stroke:#000;stroke-width:0.45px" fill="#000">b</text>
<text x="159.1" y="170.7" font-size="8.6" text-anchor="middle" fill="#1e1e1e">Time (h)</text>
<text x="420.1" y="170.9" font-size="8.6" text-anchor="middle" fill="#1e1e1e">Time (h)</text>
<text x="130.2" y="341.7" font-size="8.6" text-anchor="middle" fill="#1e1e1e">Time (h)</text>
<text x="361.4" y="341.4" font-size="8.6" text-anchor="middle" fill="#1e1e1e">Time (h)</text>
<text x="593.9" y="341.6" font-size="8.6" text-anchor="middle" fill="#1e1e1e">Time (h)</text>
<text x="44.2" y="79.8" font-size="9.2" text-anchor="middle" transform="rotate(-90 44.2 79.8)" textLength="39.6" lengthAdjust="spacingAndGlyphs" fill="#1e1e1e">FEV<tspan font-size="5.8" dy="1.9">1</tspan><tspan dy="-1.9"> (l s</tspan><tspan font-size="6.2" dy="-4.1">−1</tspan><tspan dy="4.1">)</tspan></text>
<text x="302.8" y="79.6" font-size="9.2" text-anchor="middle" transform="rotate(-90 302.8 79.6)" textLength="39.6" lengthAdjust="spacing" fill="#1e1e1e">FVC (l s<tspan font-size="6.2" dy="-4.1">−1</tspan><tspan dy="4.1">)</tspan></text>
<text x="7.7" y="255.5" font-size="8.6" text-anchor="middle" transform="rotate(-90 7.7 255.5)" textLength="41.4" lengthAdjust="spacingAndGlyphs" fill="#1e1e1e">Heart rate</text>
<text x="18.2" y="255" font-size="9" text-anchor="middle" transform="rotate(-90 18.2 255)" textLength="53.5" lengthAdjust="spacingAndGlyphs" fill="#1e1e1e">(beats min<tspan font-size="6.2" dy="-4.2">−1</tspan><tspan dy="4.2">)</tspan></text>
<text x="238.4" y="257" font-size="8.6" text-anchor="middle" transform="rotate(-90 238.4 257)" textLength="41.3" lengthAdjust="spacingAndGlyphs" fill="#1e1e1e">Systolic BP</text>
<text x="247.8" y="255.6" font-size="8.6" text-anchor="middle" transform="rotate(-90 247.8 255.6)" textLength="33.8" lengthAdjust="spacingAndGlyphs" fill="#1e1e1e">(mmHg)</text>
<text x="469" y="255.2" font-size="8.6" text-anchor="middle" transform="rotate(-90 469 255.2)" fill="#1e1e1e">Diastolic BP</text>
<text x="479" y="255.1" font-size="8.6" text-anchor="middle" transform="rotate(-90 479 255.1)" textLength="33.8" lengthAdjust="spacingAndGlyphs" fill="#1e1e1e">(mmHg)</text>
<rect x="556.1" y="32.9" width="94.5" height="83.6" rx="12.5" ry="12.5" fill="#e5e5e5"/>
<rect x="580.5" y="42.4" width="15.4" height="15.9" fill="#ffffff" stroke="#7a7a7a" stroke-width="0.9"/>
<rect x="580.1" y="65.1" width="16.2" height="16" fill="#74cffa"/>
<rect x="580.1" y="89.6" width="16.2" height="16.2" fill="#ff7474"/>
<text x="600.8" y="53.9" font-size="8.6" fill="#222">Air</text>
<text x="600.8" y="76.5" font-size="8.6" fill="#222">s-GO</text>
<text x="600.8" y="101.3" font-size="8.6" fill="#222">us-GO</text>
</svg></body></html>
